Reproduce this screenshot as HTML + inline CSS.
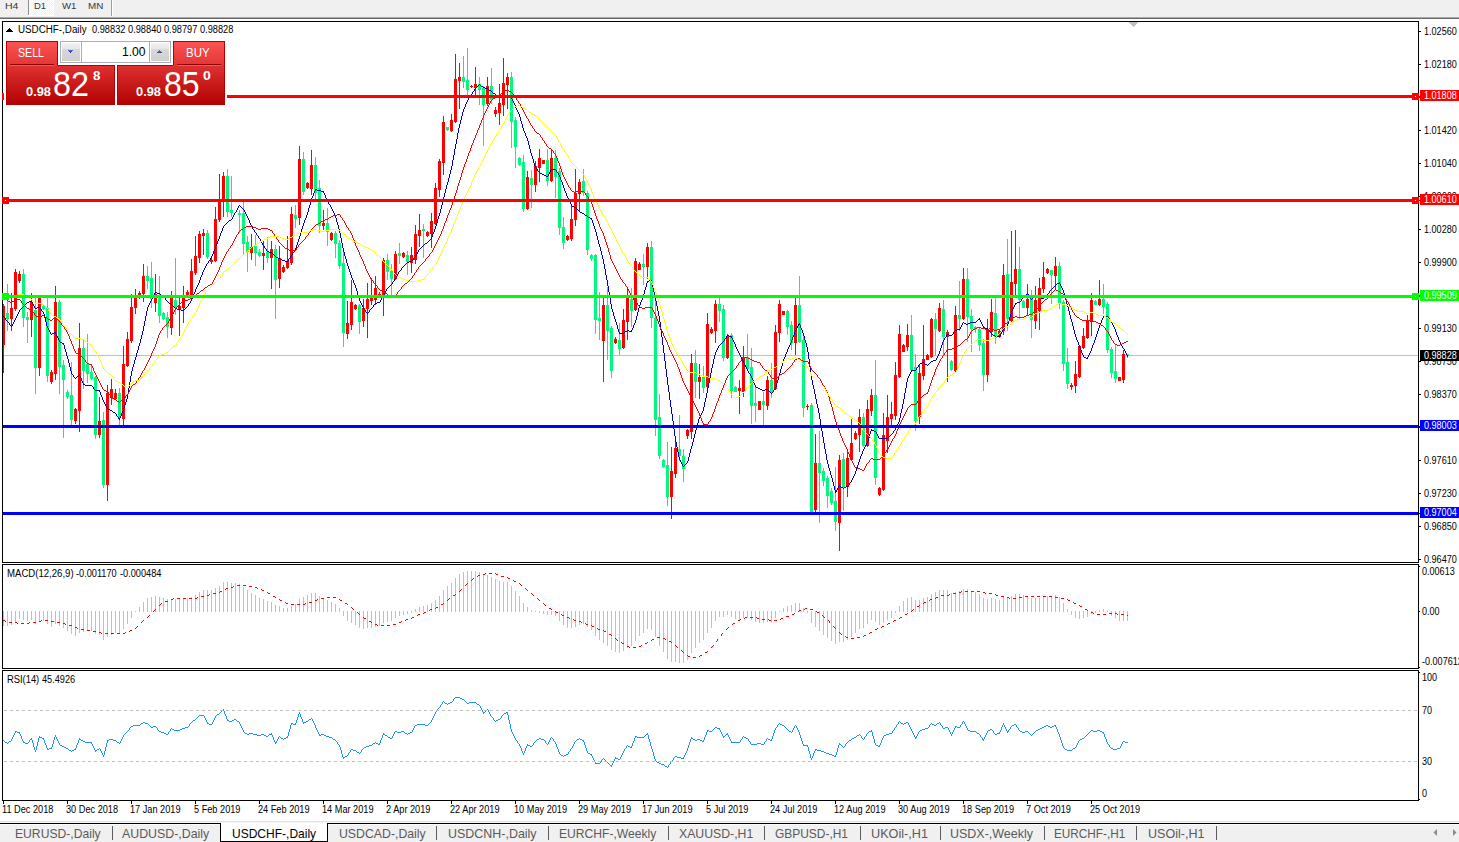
<!DOCTYPE html>
<html><head><meta charset="utf-8"><title>USDCHF-,Daily</title>
<style>
html,body{margin:0;padding:0}
html{overflow:hidden;width:1459px;height:842px}
body{width:1459px;height:842px;position:relative;overflow:hidden;background:#fff;font-family:"Liberation Sans",sans-serif;color:#000}
.abs{position:absolute}
.t{position:absolute;white-space:nowrap;line-height:1}
.ax{position:absolute;white-space:nowrap;line-height:10px;height:10px;font-size:10px;letter-spacing:-0.45px;left:1424px}
.dt{position:absolute;white-space:nowrap;line-height:10px;font-size:10px;letter-spacing:-0.3px;top:805px}
.lb{position:absolute;left:1420px;width:39px;height:11px;color:#fff}
.lb span{position:absolute;left:4.2px;top:1px;font-size:10px;line-height:10px;white-space:nowrap;transform:scaleX(0.905);transform-origin:0 0}
.tab{position:absolute;top:826px;font-size:14px;line-height:15px;color:#5a5a5a;white-space:nowrap;letter-spacing:-0.2px}
.sep{position:absolute;top:826px;width:1px;height:14px;background:#5c5c5c}
.tb{position:absolute;top:0;font-size:10.5px;line-height:11px;color:#404040;white-space:nowrap;letter-spacing:-0.2px}
</style></head><body>

<div class="abs" style="left:0;top:0;width:1459px;height:17px;background:#f0f0f0"></div>
<div class="abs" style="left:0;top:17px;width:1459px;height:1px;background:#a8a8a8"></div>
<div class="abs" style="left:0;top:18px;width:1459px;height:1px;background:#6a6a6a"></div>
<div class="abs" style="left:29px;top:0;width:24px;height:15px;background:repeating-conic-gradient(#ffffff 0 25%,#f0f0f0 0 50%) 0 0/2px 2px"></div>
<div class="abs" style="left:53px;top:0;width:1px;height:16px;background:#fff"></div>
<div class="abs" style="left:28px;top:15px;width:26px;height:1px;background:#fff"></div>
<div class="abs" style="left:28px;top:0;width:1px;height:15px;background:#8e8e8e"></div>
<div class="abs" style="left:111px;top:0;width:1px;height:16px;background:#a0a0a0"></div>
<div class="abs" style="left:112px;top:0;width:1px;height:16px;background:#fff"></div>
<div class="t" style="left:4.70px;top:1.00px;font-size:9.5px;line-height:9.5px;color:#383838;transform:scaleX(1.1034);transform-origin:0 0;">H4</div>
<div class="t" style="left:34.00px;top:1.00px;font-size:9.5px;line-height:9.5px;color:#383838;transform:scaleX(0.9963);transform-origin:0 0;">D1</div>
<div class="t" style="left:61.60px;top:1.00px;font-size:9.5px;line-height:9.5px;color:#383838;transform:scaleX(1.0105);transform-origin:0 0;">W1</div>
<div class="t" style="left:87.90px;top:1.00px;font-size:9.5px;line-height:9.5px;color:#383838;transform:scaleX(1.0356);transform-origin:0 0;">MN</div>
<svg class="abs" style="left:0;top:0" width="1459" height="842" viewBox="0 0 1459 842" shape-rendering="crispEdges">
<path d="M1129 22h9l-4.5 5z" fill="#c0c0c0" shape-rendering="auto"/>
<rect x="1129" y="22" width="9" height="1" fill="#c0c0c0"/>
<rect x="1130" y="23" width="7" height="1" fill="#c0c0c0"/>
<rect x="1131" y="24" width="5" height="1" fill="#c0c0c0"/>
<rect x="1132" y="25" width="3" height="1" fill="#c0c0c0"/>
<rect x="1133" y="26" width="1" height="1" fill="#c0c0c0"/>
<rect x="1419" y="31" width="2" height="1" fill="#000"/>
<rect x="1419" y="64" width="2" height="1" fill="#000"/>
<rect x="1419" y="97" width="2" height="1" fill="#000"/>
<rect x="1419" y="130" width="2" height="1" fill="#000"/>
<rect x="1419" y="163" width="2" height="1" fill="#000"/>
<rect x="1419" y="196" width="2" height="1" fill="#000"/>
<rect x="1419" y="229" width="2" height="1" fill="#000"/>
<rect x="1419" y="262" width="2" height="1" fill="#000"/>
<rect x="1419" y="295" width="2" height="1" fill="#000"/>
<rect x="1419" y="328" width="2" height="1" fill="#000"/>
<rect x="1419" y="361" width="2" height="1" fill="#000"/>
<rect x="1419" y="394" width="2" height="1" fill="#000"/>
<rect x="1419" y="427" width="2" height="1" fill="#000"/>
<rect x="1419" y="460" width="2" height="1" fill="#000"/>
<rect x="1419" y="493" width="2" height="1" fill="#000"/>
<rect x="1419" y="526" width="2" height="1" fill="#000"/>
<rect x="1419" y="559" width="2" height="1" fill="#000"/>
<rect x="1419" y="566" width="1" height="1" fill="#000"/>
<rect x="1419" y="611" width="1" height="1" fill="#000"/>
<rect x="1419" y="667" width="1" height="1" fill="#000"/>
<rect x="1419" y="672" width="1" height="1" fill="#000"/>
<rect x="1419" y="799" width="1" height="1" fill="#000"/>
<rect x="3" y="801" width="1" height="3" fill="#000"/>
<rect x="67" y="801" width="1" height="3" fill="#000"/>
<rect x="131" y="801" width="1" height="3" fill="#000"/>
<rect x="195" y="801" width="1" height="3" fill="#000"/>
<rect x="259" y="801" width="1" height="3" fill="#000"/>
<rect x="323" y="801" width="1" height="3" fill="#000"/>
<rect x="387" y="801" width="1" height="3" fill="#000"/>
<rect x="451" y="801" width="1" height="3" fill="#000"/>
<rect x="515" y="801" width="1" height="3" fill="#000"/>
<rect x="579" y="801" width="1" height="3" fill="#000"/>
<rect x="643" y="801" width="1" height="3" fill="#000"/>
<rect x="707" y="801" width="1" height="3" fill="#000"/>
<rect x="771" y="801" width="1" height="3" fill="#000"/>
<rect x="835" y="801" width="1" height="3" fill="#000"/>
<rect x="899" y="801" width="1" height="3" fill="#000"/>
<rect x="963" y="801" width="1" height="3" fill="#000"/>
<rect x="1027" y="801" width="1" height="3" fill="#000"/>
<rect x="1091" y="801" width="1" height="3" fill="#000"/>
<rect x="3" y="355" width="1415" height="1" fill="#c0c0c0"/>
<rect x="3" y="304" width="1" height="69" fill="#ff0000"/>
<rect x="2" y="306" width="3" height="39" fill="#ff0000"/>
<rect x="7" y="284" width="1" height="47" fill="#00f87c"/>
<rect x="6" y="313" width="3" height="6" fill="#00f87c"/>
<rect x="11" y="293" width="1" height="38" fill="#ff0000"/>
<rect x="10" y="308" width="3" height="11" fill="#ff0000"/>
<rect x="15" y="269" width="1" height="42" fill="#ff0000"/>
<rect x="14" y="272" width="3" height="37" fill="#ff0000"/>
<rect x="19" y="271" width="1" height="12" fill="#ff0000"/>
<rect x="18" y="274" width="3" height="7" fill="#ff0000"/>
<rect x="23" y="269" width="1" height="58" fill="#00f87c"/>
<rect x="22" y="274" width="3" height="44" fill="#00f87c"/>
<rect x="27" y="312" width="1" height="31" fill="#00f87c"/>
<rect x="26" y="317" width="3" height="3" fill="#00f87c"/>
<rect x="31" y="293" width="1" height="44" fill="#ff0000"/>
<rect x="30" y="302" width="3" height="18" fill="#ff0000"/>
<rect x="35" y="297" width="1" height="97" fill="#00f87c"/>
<rect x="34" y="310" width="3" height="58" fill="#00f87c"/>
<rect x="39" y="295" width="1" height="81" fill="#ff0000"/>
<rect x="38" y="298" width="3" height="70" fill="#ff0000"/>
<rect x="43" y="305" width="1" height="5" fill="#00f87c"/>
<rect x="42" y="306" width="3" height="3" fill="#00f87c"/>
<rect x="47" y="298" width="1" height="84" fill="#00f87c"/>
<rect x="46" y="308" width="3" height="68" fill="#00f87c"/>
<rect x="51" y="370" width="1" height="14" fill="#ff0000"/>
<rect x="50" y="372" width="3" height="10" fill="#ff0000"/>
<rect x="55" y="286" width="1" height="94" fill="#ff0000"/>
<rect x="54" y="302" width="3" height="72" fill="#ff0000"/>
<rect x="59" y="300" width="1" height="94" fill="#00f87c"/>
<rect x="58" y="302" width="3" height="65" fill="#00f87c"/>
<rect x="63" y="360" width="1" height="78" fill="#00f87c"/>
<rect x="62" y="365" width="3" height="15" fill="#00f87c"/>
<rect x="67" y="390" width="1" height="9" fill="#00f87c"/>
<rect x="66" y="392" width="3" height="5" fill="#00f87c"/>
<rect x="71" y="362" width="1" height="63" fill="#00f87c"/>
<rect x="70" y="395" width="3" height="25" fill="#00f87c"/>
<rect x="75" y="408" width="1" height="16" fill="#ff0000"/>
<rect x="74" y="409" width="3" height="12" fill="#ff0000"/>
<rect x="79" y="323" width="1" height="109" fill="#ff0000"/>
<rect x="78" y="348" width="3" height="63" fill="#ff0000"/>
<rect x="83" y="340" width="1" height="49" fill="#00f87c"/>
<rect x="82" y="348" width="3" height="23" fill="#00f87c"/>
<rect x="87" y="334" width="1" height="49" fill="#00f87c"/>
<rect x="86" y="364" width="3" height="10" fill="#00f87c"/>
<rect x="91" y="366" width="1" height="14" fill="#00f87c"/>
<rect x="90" y="372" width="3" height="7" fill="#00f87c"/>
<rect x="95" y="376" width="1" height="63" fill="#00f87c"/>
<rect x="94" y="377" width="3" height="58" fill="#00f87c"/>
<rect x="99" y="397" width="1" height="41" fill="#ff0000"/>
<rect x="98" y="421" width="3" height="14" fill="#ff0000"/>
<rect x="103" y="412" width="1" height="76" fill="#00f87c"/>
<rect x="102" y="420" width="3" height="65" fill="#00f87c"/>
<rect x="107" y="385" width="1" height="116" fill="#ff0000"/>
<rect x="106" y="393" width="3" height="92" fill="#ff0000"/>
<rect x="111" y="379" width="1" height="26" fill="#ff0000"/>
<rect x="110" y="389" width="3" height="9" fill="#ff0000"/>
<rect x="115" y="389" width="1" height="11" fill="#ff0000"/>
<rect x="114" y="393" width="3" height="6" fill="#ff0000"/>
<rect x="119" y="388" width="1" height="38" fill="#00f87c"/>
<rect x="118" y="393" width="3" height="25" fill="#00f87c"/>
<rect x="123" y="346" width="1" height="80" fill="#ff0000"/>
<rect x="122" y="364" width="3" height="55" fill="#ff0000"/>
<rect x="127" y="332" width="1" height="35" fill="#ff0000"/>
<rect x="126" y="339" width="3" height="27" fill="#ff0000"/>
<rect x="131" y="294" width="1" height="49" fill="#ff0000"/>
<rect x="130" y="307" width="3" height="34" fill="#ff0000"/>
<rect x="135" y="289" width="1" height="25" fill="#ff0000"/>
<rect x="134" y="298" width="3" height="10" fill="#ff0000"/>
<rect x="139" y="291" width="1" height="8" fill="#ff0000"/>
<rect x="138" y="293" width="3" height="3" fill="#ff0000"/>
<rect x="143" y="264" width="1" height="38" fill="#ff0000"/>
<rect x="142" y="276" width="3" height="18" fill="#ff0000"/>
<rect x="147" y="266" width="1" height="23" fill="#00f87c"/>
<rect x="146" y="276" width="3" height="5" fill="#00f87c"/>
<rect x="151" y="262" width="1" height="46" fill="#00f87c"/>
<rect x="150" y="278" width="3" height="21" fill="#00f87c"/>
<rect x="155" y="274" width="1" height="38" fill="#ff0000"/>
<rect x="154" y="294" width="3" height="9" fill="#ff0000"/>
<rect x="159" y="276" width="1" height="47" fill="#00f87c"/>
<rect x="158" y="295" width="3" height="21" fill="#00f87c"/>
<rect x="163" y="312" width="1" height="8" fill="#00f87c"/>
<rect x="162" y="313" width="3" height="6" fill="#00f87c"/>
<rect x="167" y="312" width="1" height="26" fill="#00f87c"/>
<rect x="166" y="317" width="3" height="10" fill="#00f87c"/>
<rect x="171" y="291" width="1" height="44" fill="#ff0000"/>
<rect x="170" y="298" width="3" height="30" fill="#ff0000"/>
<rect x="175" y="258" width="1" height="57" fill="#00f87c"/>
<rect x="174" y="300" width="3" height="8" fill="#00f87c"/>
<rect x="179" y="298" width="1" height="38" fill="#ff0000"/>
<rect x="178" y="306" width="3" height="3" fill="#ff0000"/>
<rect x="183" y="286" width="1" height="37" fill="#ff0000"/>
<rect x="182" y="298" width="3" height="10" fill="#ff0000"/>
<rect x="187" y="290" width="1" height="7" fill="#ff0000"/>
<rect x="186" y="292" width="3" height="4" fill="#ff0000"/>
<rect x="191" y="259" width="1" height="38" fill="#ff0000"/>
<rect x="190" y="271" width="3" height="24" fill="#ff0000"/>
<rect x="195" y="236" width="1" height="39" fill="#ff0000"/>
<rect x="194" y="256" width="3" height="17" fill="#ff0000"/>
<rect x="199" y="231" width="1" height="32" fill="#ff0000"/>
<rect x="198" y="234" width="3" height="24" fill="#ff0000"/>
<rect x="203" y="229" width="1" height="26" fill="#ff0000"/>
<rect x="202" y="233" width="3" height="3" fill="#ff0000"/>
<rect x="207" y="230" width="1" height="29" fill="#00f87c"/>
<rect x="206" y="233" width="3" height="24" fill="#00f87c"/>
<rect x="211" y="258" width="1" height="6" fill="#ff0000"/>
<rect x="210" y="260" width="3" height="2" fill="#ff0000"/>
<rect x="215" y="207" width="1" height="55" fill="#ff0000"/>
<rect x="214" y="219" width="3" height="42" fill="#ff0000"/>
<rect x="219" y="174" width="1" height="48" fill="#ff0000"/>
<rect x="218" y="201" width="3" height="19" fill="#ff0000"/>
<rect x="223" y="172" width="1" height="45" fill="#ff0000"/>
<rect x="222" y="176" width="3" height="26" fill="#ff0000"/>
<rect x="227" y="169" width="1" height="48" fill="#00f87c"/>
<rect x="226" y="176" width="3" height="36" fill="#00f87c"/>
<rect x="231" y="176" width="1" height="41" fill="#00f87c"/>
<rect x="230" y="210" width="3" height="3" fill="#00f87c"/>
<rect x="239" y="210" width="1" height="23" fill="#00f87c"/>
<rect x="238" y="213" width="3" height="2" fill="#00f87c"/>
<rect x="243" y="202" width="1" height="52" fill="#00f87c"/>
<rect x="242" y="213" width="3" height="31" fill="#00f87c"/>
<rect x="247" y="236" width="1" height="36" fill="#00f87c"/>
<rect x="246" y="242" width="3" height="10" fill="#00f87c"/>
<rect x="251" y="234" width="1" height="26" fill="#ff0000"/>
<rect x="250" y="247" width="3" height="6" fill="#ff0000"/>
<rect x="255" y="235" width="1" height="31" fill="#00f87c"/>
<rect x="254" y="246" width="3" height="7" fill="#00f87c"/>
<rect x="259" y="249" width="1" height="8" fill="#00f87c"/>
<rect x="258" y="252" width="3" height="4" fill="#00f87c"/>
<rect x="263" y="240" width="1" height="30" fill="#ff0000"/>
<rect x="262" y="253" width="3" height="3" fill="#ff0000"/>
<rect x="267" y="237" width="1" height="26" fill="#00f87c"/>
<rect x="266" y="252" width="3" height="6" fill="#00f87c"/>
<rect x="271" y="241" width="1" height="48" fill="#ff0000"/>
<rect x="270" y="249" width="3" height="9" fill="#ff0000"/>
<rect x="275" y="245" width="1" height="74" fill="#00f87c"/>
<rect x="274" y="249" width="3" height="31" fill="#00f87c"/>
<rect x="279" y="246" width="1" height="42" fill="#ff0000"/>
<rect x="278" y="258" width="3" height="21" fill="#ff0000"/>
<rect x="283" y="265" width="1" height="8" fill="#ff0000"/>
<rect x="282" y="267" width="3" height="5" fill="#ff0000"/>
<rect x="287" y="236" width="1" height="33" fill="#ff0000"/>
<rect x="286" y="261" width="3" height="7" fill="#ff0000"/>
<rect x="291" y="207" width="1" height="58" fill="#ff0000"/>
<rect x="290" y="214" width="3" height="49" fill="#ff0000"/>
<rect x="295" y="205" width="1" height="23" fill="#00f87c"/>
<rect x="294" y="215" width="3" height="4" fill="#00f87c"/>
<rect x="299" y="146" width="1" height="79" fill="#ff0000"/>
<rect x="298" y="159" width="3" height="59" fill="#ff0000"/>
<rect x="303" y="152" width="1" height="43" fill="#00f87c"/>
<rect x="302" y="159" width="3" height="33" fill="#00f87c"/>
<rect x="307" y="182" width="1" height="7" fill="#ff0000"/>
<rect x="306" y="183" width="3" height="5" fill="#ff0000"/>
<rect x="311" y="150" width="1" height="45" fill="#ff0000"/>
<rect x="310" y="165" width="3" height="24" fill="#ff0000"/>
<rect x="315" y="157" width="1" height="42" fill="#00f87c"/>
<rect x="314" y="165" width="3" height="28" fill="#00f87c"/>
<rect x="319" y="180" width="1" height="53" fill="#00f87c"/>
<rect x="318" y="188" width="3" height="38" fill="#00f87c"/>
<rect x="323" y="210" width="1" height="20" fill="#ff0000"/>
<rect x="322" y="223" width="3" height="3" fill="#ff0000"/>
<rect x="327" y="208" width="1" height="38" fill="#00f87c"/>
<rect x="326" y="223" width="3" height="9" fill="#00f87c"/>
<rect x="331" y="232" width="1" height="9" fill="#ff0000"/>
<rect x="330" y="233" width="3" height="7" fill="#ff0000"/>
<rect x="335" y="231" width="1" height="27" fill="#00f87c"/>
<rect x="334" y="233" width="3" height="11" fill="#00f87c"/>
<rect x="339" y="240" width="1" height="29" fill="#00f87c"/>
<rect x="338" y="243" width="3" height="23" fill="#00f87c"/>
<rect x="343" y="250" width="1" height="97" fill="#00f87c"/>
<rect x="342" y="263" width="3" height="70" fill="#00f87c"/>
<rect x="347" y="301" width="1" height="38" fill="#ff0000"/>
<rect x="346" y="323" width="3" height="11" fill="#ff0000"/>
<rect x="351" y="280" width="1" height="50" fill="#ff0000"/>
<rect x="350" y="302" width="3" height="23" fill="#ff0000"/>
<rect x="355" y="304" width="1" height="6" fill="#ff0000"/>
<rect x="354" y="305" width="3" height="4" fill="#ff0000"/>
<rect x="359" y="304" width="1" height="30" fill="#00f87c"/>
<rect x="358" y="305" width="3" height="17" fill="#00f87c"/>
<rect x="363" y="299" width="1" height="28" fill="#ff0000"/>
<rect x="362" y="308" width="3" height="13" fill="#ff0000"/>
<rect x="367" y="283" width="1" height="55" fill="#ff0000"/>
<rect x="366" y="299" width="3" height="10" fill="#ff0000"/>
<rect x="371" y="278" width="1" height="27" fill="#ff0000"/>
<rect x="370" y="298" width="3" height="3" fill="#ff0000"/>
<rect x="375" y="276" width="1" height="29" fill="#ff0000"/>
<rect x="374" y="288" width="3" height="12" fill="#ff0000"/>
<rect x="379" y="292" width="1" height="5" fill="#ff0000"/>
<rect x="378" y="294" width="3" height="2" fill="#ff0000"/>
<rect x="383" y="258" width="1" height="58" fill="#ff0000"/>
<rect x="382" y="260" width="3" height="36" fill="#ff0000"/>
<rect x="387" y="254" width="1" height="26" fill="#00f87c"/>
<rect x="386" y="260" width="3" height="12" fill="#00f87c"/>
<rect x="391" y="264" width="1" height="32" fill="#00f87c"/>
<rect x="390" y="271" width="3" height="8" fill="#00f87c"/>
<rect x="395" y="251" width="1" height="29" fill="#ff0000"/>
<rect x="394" y="254" width="3" height="25" fill="#ff0000"/>
<rect x="399" y="243" width="1" height="21" fill="#00f87c"/>
<rect x="398" y="253" width="3" height="3" fill="#00f87c"/>
<rect x="403" y="252" width="1" height="6" fill="#ff0000"/>
<rect x="402" y="253" width="3" height="4" fill="#ff0000"/>
<rect x="407" y="251" width="1" height="24" fill="#00f87c"/>
<rect x="406" y="255" width="3" height="7" fill="#00f87c"/>
<rect x="411" y="247" width="1" height="26" fill="#ff0000"/>
<rect x="410" y="255" width="3" height="8" fill="#ff0000"/>
<rect x="415" y="225" width="1" height="39" fill="#ff0000"/>
<rect x="414" y="234" width="3" height="26" fill="#ff0000"/>
<rect x="419" y="214" width="1" height="33" fill="#ff0000"/>
<rect x="418" y="230" width="3" height="6" fill="#ff0000"/>
<rect x="423" y="224" width="1" height="34" fill="#00f87c"/>
<rect x="422" y="229" width="3" height="2" fill="#00f87c"/>
<rect x="427" y="231" width="1" height="6" fill="#ff0000"/>
<rect x="426" y="232" width="3" height="4" fill="#ff0000"/>
<rect x="431" y="213" width="1" height="35" fill="#ff0000"/>
<rect x="430" y="221" width="3" height="13" fill="#ff0000"/>
<rect x="435" y="183" width="1" height="42" fill="#ff0000"/>
<rect x="434" y="188" width="3" height="36" fill="#ff0000"/>
<rect x="439" y="159" width="1" height="38" fill="#ff0000"/>
<rect x="438" y="161" width="3" height="29" fill="#ff0000"/>
<rect x="443" y="116" width="1" height="59" fill="#ff0000"/>
<rect x="442" y="122" width="3" height="41" fill="#ff0000"/>
<rect x="447" y="127" width="1" height="4" fill="#00f87c"/>
<rect x="446" y="127" width="3" height="3" fill="#00f87c"/>
<rect x="451" y="114" width="1" height="18" fill="#ff0000"/>
<rect x="450" y="120" width="3" height="11" fill="#ff0000"/>
<rect x="455" y="54" width="1" height="69" fill="#ff0000"/>
<rect x="454" y="79" width="3" height="43" fill="#ff0000"/>
<rect x="459" y="63" width="1" height="46" fill="#ff0000"/>
<rect x="458" y="77" width="3" height="4" fill="#ff0000"/>
<rect x="463" y="56" width="1" height="32" fill="#00f87c"/>
<rect x="462" y="77" width="3" height="5" fill="#00f87c"/>
<rect x="467" y="48" width="1" height="50" fill="#00f87c"/>
<rect x="466" y="80" width="3" height="10" fill="#00f87c"/>
<rect x="471" y="85" width="1" height="3" fill="#ff0000"/>
<rect x="470" y="86" width="3" height="1" fill="#ff0000"/>
<rect x="475" y="67" width="1" height="28" fill="#ff0000"/>
<rect x="474" y="84" width="3" height="4" fill="#ff0000"/>
<rect x="479" y="77" width="1" height="28" fill="#00f87c"/>
<rect x="478" y="84" width="3" height="6" fill="#00f87c"/>
<rect x="483" y="86" width="1" height="60" fill="#00f87c"/>
<rect x="482" y="88" width="3" height="17" fill="#00f87c"/>
<rect x="487" y="77" width="1" height="29" fill="#ff0000"/>
<rect x="486" y="86" width="3" height="18" fill="#ff0000"/>
<rect x="491" y="68" width="1" height="36" fill="#00f87c"/>
<rect x="490" y="86" width="3" height="14" fill="#00f87c"/>
<rect x="495" y="107" width="1" height="10" fill="#ff0000"/>
<rect x="494" y="110" width="3" height="4" fill="#ff0000"/>
<rect x="499" y="84" width="1" height="41" fill="#ff0000"/>
<rect x="498" y="103" width="3" height="10" fill="#ff0000"/>
<rect x="503" y="58" width="1" height="58" fill="#ff0000"/>
<rect x="502" y="83" width="3" height="22" fill="#ff0000"/>
<rect x="507" y="73" width="1" height="36" fill="#ff0000"/>
<rect x="506" y="77" width="3" height="8" fill="#ff0000"/>
<rect x="511" y="72" width="1" height="76" fill="#00f87c"/>
<rect x="510" y="77" width="3" height="45" fill="#00f87c"/>
<rect x="515" y="117" width="1" height="51" fill="#00f87c"/>
<rect x="514" y="120" width="3" height="27" fill="#00f87c"/>
<rect x="519" y="157" width="1" height="9" fill="#00f87c"/>
<rect x="518" y="158" width="3" height="7" fill="#00f87c"/>
<rect x="523" y="155" width="1" height="57" fill="#00f87c"/>
<rect x="522" y="162" width="3" height="47" fill="#00f87c"/>
<rect x="527" y="171" width="1" height="39" fill="#ff0000"/>
<rect x="526" y="177" width="3" height="32" fill="#ff0000"/>
<rect x="531" y="170" width="1" height="38" fill="#00f87c"/>
<rect x="530" y="178" width="3" height="7" fill="#00f87c"/>
<rect x="535" y="161" width="1" height="31" fill="#ff0000"/>
<rect x="534" y="166" width="3" height="19" fill="#ff0000"/>
<rect x="539" y="149" width="1" height="33" fill="#ff0000"/>
<rect x="538" y="158" width="3" height="10" fill="#ff0000"/>
<rect x="543" y="160" width="1" height="4" fill="#ff0000"/>
<rect x="542" y="160" width="3" height="4" fill="#ff0000"/>
<rect x="547" y="149" width="1" height="37" fill="#00f87c"/>
<rect x="546" y="160" width="3" height="21" fill="#00f87c"/>
<rect x="551" y="150" width="1" height="32" fill="#ff0000"/>
<rect x="550" y="158" width="3" height="23" fill="#ff0000"/>
<rect x="555" y="150" width="1" height="48" fill="#00f87c"/>
<rect x="554" y="158" width="3" height="19" fill="#00f87c"/>
<rect x="559" y="168" width="1" height="67" fill="#00f87c"/>
<rect x="558" y="171" width="3" height="57" fill="#00f87c"/>
<rect x="563" y="217" width="1" height="32" fill="#00f87c"/>
<rect x="562" y="227" width="3" height="16" fill="#00f87c"/>
<rect x="567" y="235" width="1" height="6" fill="#ff0000"/>
<rect x="566" y="236" width="3" height="4" fill="#ff0000"/>
<rect x="571" y="205" width="1" height="36" fill="#ff0000"/>
<rect x="570" y="219" width="3" height="20" fill="#ff0000"/>
<rect x="575" y="169" width="1" height="57" fill="#ff0000"/>
<rect x="574" y="193" width="3" height="27" fill="#ff0000"/>
<rect x="579" y="179" width="1" height="33" fill="#ff0000"/>
<rect x="578" y="182" width="3" height="12" fill="#ff0000"/>
<rect x="583" y="169" width="1" height="27" fill="#00f87c"/>
<rect x="582" y="181" width="3" height="12" fill="#00f87c"/>
<rect x="587" y="191" width="1" height="64" fill="#00f87c"/>
<rect x="586" y="193" width="3" height="57" fill="#00f87c"/>
<rect x="591" y="254" width="1" height="7" fill="#00f87c"/>
<rect x="590" y="255" width="3" height="4" fill="#00f87c"/>
<rect x="595" y="254" width="1" height="80" fill="#00f87c"/>
<rect x="594" y="255" width="3" height="65" fill="#00f87c"/>
<rect x="599" y="292" width="1" height="48" fill="#00f87c"/>
<rect x="598" y="318" width="3" height="3" fill="#00f87c"/>
<rect x="603" y="298" width="1" height="84" fill="#ff0000"/>
<rect x="602" y="305" width="3" height="36" fill="#ff0000"/>
<rect x="607" y="287" width="1" height="73" fill="#00f87c"/>
<rect x="606" y="305" width="3" height="26" fill="#00f87c"/>
<rect x="611" y="326" width="1" height="52" fill="#00f87c"/>
<rect x="610" y="328" width="3" height="43" fill="#00f87c"/>
<rect x="615" y="337" width="1" height="7" fill="#ff0000"/>
<rect x="614" y="339" width="3" height="4" fill="#ff0000"/>
<rect x="619" y="323" width="1" height="32" fill="#00f87c"/>
<rect x="618" y="340" width="3" height="9" fill="#00f87c"/>
<rect x="623" y="309" width="1" height="40" fill="#ff0000"/>
<rect x="622" y="320" width="3" height="28" fill="#ff0000"/>
<rect x="627" y="288" width="1" height="52" fill="#ff0000"/>
<rect x="626" y="298" width="3" height="24" fill="#ff0000"/>
<rect x="631" y="288" width="1" height="39" fill="#00f87c"/>
<rect x="630" y="299" width="3" height="12" fill="#00f87c"/>
<rect x="635" y="258" width="1" height="53" fill="#ff0000"/>
<rect x="634" y="261" width="3" height="49" fill="#ff0000"/>
<rect x="639" y="262" width="1" height="8" fill="#ff0000"/>
<rect x="638" y="264" width="3" height="6" fill="#ff0000"/>
<rect x="643" y="254" width="1" height="31" fill="#00f87c"/>
<rect x="642" y="264" width="3" height="3" fill="#00f87c"/>
<rect x="647" y="243" width="1" height="36" fill="#ff0000"/>
<rect x="646" y="247" width="3" height="20" fill="#ff0000"/>
<rect x="651" y="241" width="1" height="87" fill="#00f87c"/>
<rect x="650" y="247" width="3" height="71" fill="#00f87c"/>
<rect x="655" y="298" width="1" height="138" fill="#00f87c"/>
<rect x="654" y="318" width="3" height="102" fill="#00f87c"/>
<rect x="659" y="394" width="1" height="65" fill="#00f87c"/>
<rect x="658" y="417" width="3" height="39" fill="#00f87c"/>
<rect x="663" y="459" width="1" height="9" fill="#00f87c"/>
<rect x="662" y="460" width="3" height="7" fill="#00f87c"/>
<rect x="667" y="442" width="1" height="64" fill="#00f87c"/>
<rect x="666" y="465" width="3" height="32" fill="#00f87c"/>
<rect x="671" y="447" width="1" height="72" fill="#ff0000"/>
<rect x="670" y="471" width="3" height="26" fill="#ff0000"/>
<rect x="675" y="441" width="1" height="37" fill="#ff0000"/>
<rect x="674" y="448" width="3" height="26" fill="#ff0000"/>
<rect x="679" y="415" width="1" height="46" fill="#00f87c"/>
<rect x="678" y="449" width="3" height="7" fill="#00f87c"/>
<rect x="683" y="449" width="1" height="33" fill="#00f87c"/>
<rect x="682" y="456" width="3" height="13" fill="#00f87c"/>
<rect x="687" y="429" width="1" height="10" fill="#ff0000"/>
<rect x="686" y="430" width="3" height="6" fill="#ff0000"/>
<rect x="691" y="354" width="1" height="85" fill="#ff0000"/>
<rect x="690" y="363" width="3" height="69" fill="#ff0000"/>
<rect x="695" y="350" width="1" height="48" fill="#00f87c"/>
<rect x="694" y="363" width="3" height="19" fill="#00f87c"/>
<rect x="699" y="364" width="1" height="35" fill="#ff0000"/>
<rect x="698" y="377" width="3" height="5" fill="#ff0000"/>
<rect x="703" y="366" width="1" height="27" fill="#00f87c"/>
<rect x="702" y="377" width="3" height="11" fill="#00f87c"/>
<rect x="707" y="313" width="1" height="76" fill="#ff0000"/>
<rect x="706" y="324" width="3" height="63" fill="#ff0000"/>
<rect x="711" y="327" width="1" height="7" fill="#ff0000"/>
<rect x="710" y="329" width="3" height="4" fill="#ff0000"/>
<rect x="715" y="300" width="1" height="43" fill="#ff0000"/>
<rect x="714" y="304" width="3" height="27" fill="#ff0000"/>
<rect x="719" y="298" width="1" height="24" fill="#00f87c"/>
<rect x="718" y="304" width="3" height="7" fill="#00f87c"/>
<rect x="723" y="305" width="1" height="56" fill="#00f87c"/>
<rect x="722" y="309" width="3" height="49" fill="#00f87c"/>
<rect x="727" y="334" width="1" height="25" fill="#ff0000"/>
<rect x="726" y="336" width="3" height="22" fill="#ff0000"/>
<rect x="731" y="333" width="1" height="65" fill="#00f87c"/>
<rect x="730" y="335" width="3" height="56" fill="#00f87c"/>
<rect x="735" y="386" width="1" height="6" fill="#00f87c"/>
<rect x="734" y="387" width="3" height="5" fill="#00f87c"/>
<rect x="739" y="380" width="1" height="34" fill="#ff0000"/>
<rect x="738" y="388" width="3" height="3" fill="#ff0000"/>
<rect x="743" y="346" width="1" height="51" fill="#ff0000"/>
<rect x="742" y="357" width="3" height="35" fill="#ff0000"/>
<rect x="747" y="334" width="1" height="37" fill="#00f87c"/>
<rect x="746" y="357" width="3" height="12" fill="#00f87c"/>
<rect x="751" y="348" width="1" height="76" fill="#00f87c"/>
<rect x="750" y="367" width="3" height="39" fill="#00f87c"/>
<rect x="755" y="387" width="1" height="35" fill="#00f87c"/>
<rect x="754" y="403" width="3" height="3" fill="#00f87c"/>
<rect x="759" y="401" width="1" height="9" fill="#ff0000"/>
<rect x="758" y="401" width="3" height="9" fill="#ff0000"/>
<rect x="763" y="392" width="1" height="34" fill="#00f87c"/>
<rect x="762" y="401" width="3" height="4" fill="#00f87c"/>
<rect x="767" y="376" width="1" height="34" fill="#ff0000"/>
<rect x="766" y="380" width="3" height="26" fill="#ff0000"/>
<rect x="771" y="363" width="1" height="35" fill="#00f87c"/>
<rect x="770" y="380" width="3" height="12" fill="#00f87c"/>
<rect x="775" y="325" width="1" height="65" fill="#ff0000"/>
<rect x="774" y="332" width="3" height="57" fill="#ff0000"/>
<rect x="779" y="300" width="1" height="42" fill="#ff0000"/>
<rect x="778" y="304" width="3" height="29" fill="#ff0000"/>
<rect x="783" y="311" width="1" height="4" fill="#ff0000"/>
<rect x="782" y="311" width="3" height="4" fill="#ff0000"/>
<rect x="787" y="310" width="1" height="25" fill="#00f87c"/>
<rect x="786" y="311" width="3" height="16" fill="#00f87c"/>
<rect x="791" y="321" width="1" height="29" fill="#00f87c"/>
<rect x="790" y="325" width="3" height="18" fill="#00f87c"/>
<rect x="795" y="298" width="1" height="57" fill="#ff0000"/>
<rect x="794" y="305" width="3" height="38" fill="#ff0000"/>
<rect x="799" y="276" width="1" height="67" fill="#00f87c"/>
<rect x="798" y="305" width="3" height="37" fill="#00f87c"/>
<rect x="803" y="336" width="1" height="81" fill="#00f87c"/>
<rect x="802" y="340" width="3" height="68" fill="#00f87c"/>
<rect x="807" y="404" width="1" height="6" fill="#ff0000"/>
<rect x="806" y="406" width="3" height="1" fill="#ff0000"/>
<rect x="811" y="403" width="1" height="110" fill="#00f87c"/>
<rect x="810" y="405" width="3" height="107" fill="#00f87c"/>
<rect x="815" y="434" width="1" height="78" fill="#ff0000"/>
<rect x="814" y="463" width="3" height="47" fill="#ff0000"/>
<rect x="819" y="431" width="1" height="92" fill="#00f87c"/>
<rect x="818" y="463" width="3" height="10" fill="#00f87c"/>
<rect x="823" y="468" width="1" height="18" fill="#00f87c"/>
<rect x="822" y="471" width="3" height="10" fill="#00f87c"/>
<rect x="827" y="476" width="1" height="32" fill="#00f87c"/>
<rect x="826" y="478" width="3" height="18" fill="#00f87c"/>
<rect x="831" y="488" width="1" height="17" fill="#00f87c"/>
<rect x="830" y="491" width="3" height="12" fill="#00f87c"/>
<rect x="835" y="467" width="1" height="64" fill="#00f87c"/>
<rect x="834" y="501" width="3" height="21" fill="#00f87c"/>
<rect x="839" y="455" width="1" height="96" fill="#ff0000"/>
<rect x="838" y="460" width="3" height="63" fill="#ff0000"/>
<rect x="843" y="453" width="1" height="58" fill="#00f87c"/>
<rect x="842" y="459" width="3" height="28" fill="#00f87c"/>
<rect x="847" y="449" width="1" height="48" fill="#ff0000"/>
<rect x="846" y="458" width="3" height="29" fill="#ff0000"/>
<rect x="851" y="419" width="1" height="42" fill="#ff0000"/>
<rect x="850" y="443" width="3" height="17" fill="#ff0000"/>
<rect x="855" y="431" width="1" height="9" fill="#ff0000"/>
<rect x="854" y="433" width="3" height="6" fill="#ff0000"/>
<rect x="859" y="409" width="1" height="43" fill="#ff0000"/>
<rect x="858" y="417" width="3" height="18" fill="#ff0000"/>
<rect x="863" y="413" width="1" height="34" fill="#00f87c"/>
<rect x="862" y="417" width="3" height="29" fill="#00f87c"/>
<rect x="867" y="400" width="1" height="47" fill="#ff0000"/>
<rect x="866" y="409" width="3" height="37" fill="#ff0000"/>
<rect x="871" y="389" width="1" height="27" fill="#ff0000"/>
<rect x="870" y="395" width="3" height="16" fill="#ff0000"/>
<rect x="875" y="360" width="1" height="125" fill="#00f87c"/>
<rect x="874" y="395" width="3" height="83" fill="#00f87c"/>
<rect x="879" y="487" width="1" height="9" fill="#ff0000"/>
<rect x="878" y="488" width="3" height="7" fill="#ff0000"/>
<rect x="883" y="413" width="1" height="78" fill="#ff0000"/>
<rect x="882" y="435" width="3" height="55" fill="#ff0000"/>
<rect x="887" y="395" width="1" height="58" fill="#ff0000"/>
<rect x="886" y="417" width="3" height="24" fill="#ff0000"/>
<rect x="891" y="402" width="1" height="24" fill="#ff0000"/>
<rect x="890" y="414" width="3" height="5" fill="#ff0000"/>
<rect x="895" y="362" width="1" height="58" fill="#ff0000"/>
<rect x="894" y="375" width="3" height="41" fill="#ff0000"/>
<rect x="899" y="325" width="1" height="53" fill="#ff0000"/>
<rect x="898" y="334" width="3" height="43" fill="#ff0000"/>
<rect x="903" y="344" width="1" height="8" fill="#ff0000"/>
<rect x="902" y="345" width="3" height="7" fill="#ff0000"/>
<rect x="907" y="324" width="1" height="27" fill="#ff0000"/>
<rect x="906" y="335" width="3" height="12" fill="#ff0000"/>
<rect x="911" y="315" width="1" height="56" fill="#00f87c"/>
<rect x="910" y="335" width="3" height="35" fill="#00f87c"/>
<rect x="915" y="354" width="1" height="77" fill="#00f87c"/>
<rect x="914" y="367" width="3" height="54" fill="#00f87c"/>
<rect x="919" y="365" width="1" height="59" fill="#ff0000"/>
<rect x="918" y="373" width="3" height="44" fill="#ff0000"/>
<rect x="923" y="325" width="1" height="55" fill="#ff0000"/>
<rect x="922" y="359" width="3" height="17" fill="#ff0000"/>
<rect x="927" y="354" width="1" height="6" fill="#ff0000"/>
<rect x="926" y="355" width="3" height="5" fill="#ff0000"/>
<rect x="931" y="318" width="1" height="40" fill="#ff0000"/>
<rect x="930" y="319" width="3" height="38" fill="#ff0000"/>
<rect x="935" y="313" width="1" height="43" fill="#00f87c"/>
<rect x="934" y="319" width="3" height="10" fill="#00f87c"/>
<rect x="939" y="303" width="1" height="29" fill="#ff0000"/>
<rect x="938" y="308" width="3" height="23" fill="#ff0000"/>
<rect x="943" y="300" width="1" height="55" fill="#00f87c"/>
<rect x="942" y="309" width="3" height="28" fill="#00f87c"/>
<rect x="947" y="330" width="1" height="52" fill="#ff0000"/>
<rect x="946" y="332" width="3" height="5" fill="#ff0000"/>
<rect x="951" y="360" width="1" height="11" fill="#00f87c"/>
<rect x="950" y="361" width="3" height="9" fill="#00f87c"/>
<rect x="955" y="306" width="1" height="66" fill="#ff0000"/>
<rect x="954" y="315" width="3" height="56" fill="#ff0000"/>
<rect x="959" y="281" width="1" height="50" fill="#00f87c"/>
<rect x="958" y="315" width="3" height="4" fill="#00f87c"/>
<rect x="963" y="268" width="1" height="52" fill="#ff0000"/>
<rect x="962" y="279" width="3" height="40" fill="#ff0000"/>
<rect x="967" y="268" width="1" height="74" fill="#00f87c"/>
<rect x="966" y="279" width="3" height="38" fill="#00f87c"/>
<rect x="971" y="309" width="1" height="43" fill="#00f87c"/>
<rect x="970" y="316" width="3" height="13" fill="#00f87c"/>
<rect x="975" y="326" width="1" height="7" fill="#00f87c"/>
<rect x="974" y="327" width="3" height="2" fill="#00f87c"/>
<rect x="979" y="327" width="1" height="24" fill="#00f87c"/>
<rect x="978" y="329" width="3" height="16" fill="#00f87c"/>
<rect x="983" y="339" width="1" height="52" fill="#00f87c"/>
<rect x="982" y="343" width="3" height="32" fill="#00f87c"/>
<rect x="987" y="319" width="1" height="63" fill="#ff0000"/>
<rect x="986" y="329" width="3" height="46" fill="#ff0000"/>
<rect x="991" y="299" width="1" height="38" fill="#ff0000"/>
<rect x="990" y="312" width="3" height="20" fill="#ff0000"/>
<rect x="995" y="298" width="1" height="46" fill="#00f87c"/>
<rect x="994" y="313" width="3" height="25" fill="#00f87c"/>
<rect x="999" y="330" width="1" height="8" fill="#ff0000"/>
<rect x="998" y="331" width="3" height="6" fill="#ff0000"/>
<rect x="1003" y="264" width="1" height="71" fill="#ff0000"/>
<rect x="1002" y="275" width="3" height="56" fill="#ff0000"/>
<rect x="1007" y="239" width="1" height="92" fill="#00f87c"/>
<rect x="1006" y="274" width="3" height="45" fill="#00f87c"/>
<rect x="1011" y="231" width="1" height="91" fill="#ff0000"/>
<rect x="1010" y="282" width="3" height="39" fill="#ff0000"/>
<rect x="1015" y="230" width="1" height="66" fill="#ff0000"/>
<rect x="1014" y="269" width="3" height="15" fill="#ff0000"/>
<rect x="1019" y="247" width="1" height="73" fill="#00f87c"/>
<rect x="1018" y="269" width="3" height="31" fill="#00f87c"/>
<rect x="1023" y="300" width="1" height="8" fill="#00f87c"/>
<rect x="1022" y="301" width="3" height="7" fill="#00f87c"/>
<rect x="1027" y="284" width="1" height="31" fill="#ff0000"/>
<rect x="1026" y="299" width="3" height="9" fill="#ff0000"/>
<rect x="1031" y="290" width="1" height="48" fill="#00f87c"/>
<rect x="1030" y="299" width="3" height="21" fill="#00f87c"/>
<rect x="1035" y="286" width="1" height="43" fill="#ff0000"/>
<rect x="1034" y="300" width="3" height="21" fill="#ff0000"/>
<rect x="1039" y="278" width="1" height="52" fill="#ff0000"/>
<rect x="1038" y="288" width="3" height="23" fill="#ff0000"/>
<rect x="1043" y="262" width="1" height="31" fill="#ff0000"/>
<rect x="1042" y="277" width="3" height="12" fill="#ff0000"/>
<rect x="1047" y="268" width="1" height="6" fill="#ff0000"/>
<rect x="1046" y="269" width="3" height="4" fill="#ff0000"/>
<rect x="1051" y="270" width="1" height="34" fill="#00f87c"/>
<rect x="1050" y="270" width="3" height="5" fill="#00f87c"/>
<rect x="1055" y="257" width="1" height="33" fill="#ff0000"/>
<rect x="1054" y="266" width="3" height="10" fill="#ff0000"/>
<rect x="1059" y="262" width="1" height="47" fill="#00f87c"/>
<rect x="1058" y="266" width="3" height="38" fill="#00f87c"/>
<rect x="1063" y="300" width="1" height="71" fill="#00f87c"/>
<rect x="1062" y="302" width="3" height="62" fill="#00f87c"/>
<rect x="1067" y="348" width="1" height="41" fill="#00f87c"/>
<rect x="1066" y="362" width="3" height="22" fill="#00f87c"/>
<rect x="1071" y="383" width="1" height="7" fill="#ff0000"/>
<rect x="1070" y="385" width="3" height="2" fill="#ff0000"/>
<rect x="1075" y="361" width="1" height="32" fill="#ff0000"/>
<rect x="1074" y="374" width="3" height="12" fill="#ff0000"/>
<rect x="1079" y="345" width="1" height="33" fill="#ff0000"/>
<rect x="1078" y="346" width="3" height="31" fill="#ff0000"/>
<rect x="1083" y="328" width="1" height="21" fill="#ff0000"/>
<rect x="1082" y="336" width="3" height="12" fill="#ff0000"/>
<rect x="1087" y="315" width="1" height="24" fill="#ff0000"/>
<rect x="1086" y="320" width="3" height="18" fill="#ff0000"/>
<rect x="1091" y="293" width="1" height="43" fill="#ff0000"/>
<rect x="1090" y="300" width="3" height="22" fill="#ff0000"/>
<rect x="1095" y="300" width="1" height="5" fill="#00f87c"/>
<rect x="1094" y="301" width="3" height="4" fill="#00f87c"/>
<rect x="1099" y="280" width="1" height="26" fill="#ff0000"/>
<rect x="1098" y="299" width="3" height="6" fill="#ff0000"/>
<rect x="1103" y="284" width="1" height="30" fill="#00f87c"/>
<rect x="1102" y="299" width="3" height="8" fill="#00f87c"/>
<rect x="1107" y="302" width="1" height="51" fill="#00f87c"/>
<rect x="1106" y="304" width="3" height="46" fill="#00f87c"/>
<rect x="1111" y="347" width="1" height="31" fill="#00f87c"/>
<rect x="1110" y="349" width="3" height="24" fill="#00f87c"/>
<rect x="1115" y="345" width="1" height="38" fill="#00f87c"/>
<rect x="1114" y="371" width="3" height="8" fill="#00f87c"/>
<rect x="1119" y="377" width="1" height="4" fill="#ff0000"/>
<rect x="1118" y="377" width="3" height="4" fill="#ff0000"/>
<rect x="1123" y="350" width="1" height="33" fill="#ff0000"/>
<rect x="1122" y="354" width="3" height="26" fill="#ff0000"/>
<rect x="1127" y="354" width="1" height="4" fill="#00f87c"/>
<rect x="1126" y="354" width="3" height="2" fill="#00f87c"/>
<path d="M3 316.5h1M4 317.5h1M5.5 318v2M6 320.5h1M7 321.5h1M8 322.5h1M9.5 323v2M10 325.5h1M11 326.5h1M12.5 324v2M13.5 322v2M14.5 320v2M15.5 318v2M16.5 316v2M17.5 314v2M18.5 312v2M19.5 310v2M20 309.5h1M21 308.5h1M22 307.5h1M23 306.5h1M24 305.5h1M25 304.5h1M26 303.5h1M27 302.5h2M29 301.5h3M32.5 302v2M33.5 304v2M34.5 306v2M35 308.5h2M37 307.5h3M40 308.5h1M41.5 309v2M42 311.5h1M43.5 312v2M44.5 314v4M45.5 318v4M46.5 322v4M47.5 326v2M48.5 328v2M49.5 330v2M50.5 332v2M51 334.5h1M52 333.5h2M54 332.5h1M55.5 332v2M56.5 334v2M57.5 336v2M58.5 338v2M59.5 340v2M60 342.5h2M62 343.5h1M63.5 343v2M64.5 345v4M65.5 349v3M66.5 352v4M67.5 356v3M68.5 359v4M69.5 363v4M70.5 367v4M71.5 371v3M72 374.5h1M73.5 375v2M74 377.5h1M75 378.5h1M76 377.5h1M77 376.5h1M78 375.5h1M79.5 374v2M80.5 376v2M81.5 378v3M82.5 381v2M83.5 383v2M84 384.5h1M85 385.5h7M92 386.5h1M93.5 387v2M94 389.5h1M95 390.5h4M99.5 390v2M100.5 392v3M101.5 395v2M102.5 397v3M103.5 400v2M104.5 402v2M105.5 404v2M106.5 406v2M107 408.5h1M108 409.5h2M110 410.5h2M112 411.5h1M113 412.5h2M115 413.5h1M116.5 414v2M117 416.5h1M118.5 417v2M119.5 418v2M120.5 416v2M121.5 413v3M122.5 411v2M123.5 408v3M124.5 405v3M125.5 402v3M126.5 399v3M127.5 394v5M128.5 388v6M129.5 382v6M130.5 376v6M131.5 371v5M132.5 367v4M133.5 364v3M134.5 360v4M135.5 357v3M136.5 353v4M137.5 350v3M138.5 346v4M139.5 343v3M140.5 339v4M141.5 335v4M142.5 331v4M143.5 326v5M144.5 321v5M145.5 316v5M146.5 311v5M147.5 307v4M148.5 305v2M149.5 303v2M150.5 301v2M151.5 299v2M152.5 297v2M153.5 295v2M154.5 293v2M155 292.5h2M157 293.5h3M160 294.5h1M161 295.5h2M163 296.5h1M164 297.5h1M165.5 298v2M166 300.5h1M167 301.5h1M168 302.5h1M169 303.5h2M171 304.5h1M172 305.5h1M173 306.5h1M174 307.5h1M175 308.5h2M177 309.5h4M181 310.5h3M184 309.5h1M185 308.5h1M186 307.5h1M187 306.5h1M188.5 304v2M189 303.5h1M190.5 301v2M191.5 299v2M192.5 297v2M193.5 294v3M194.5 292v2M195.5 289v3M196.5 287v2M197.5 285v2M198.5 283v2M199.5 280v3M200.5 277v3M201.5 275v2M202.5 272v3M203.5 270v2M204.5 268v2M205.5 266v2M206.5 264v2M207 263.5h1M208.5 261v2M209 260.5h1M210.5 258v2M211.5 256v2M212.5 254v2M213.5 251v3M214.5 249v2M215.5 246v3M216.5 244v2M217.5 241v3M218.5 239v2M219.5 236v3M220.5 233v3M221.5 231v2M222.5 228v3M223.5 226v2M224 225.5h1M225 224.5h1M226 223.5h1M227 222.5h1M228 221.5h1M229 220.5h2M231 219.5h1M232.5 217v2M233.5 215v2M234.5 213v2M235 212.5h1M236.5 210v2M237.5 208v2M238.5 206v2M239 205.5h1M240 206.5h1M241 207.5h1M242 208.5h1M243 209.5h1M244.5 210v2M245.5 212v2M246.5 214v2M247.5 216v2M248.5 218v2M249.5 220v3M250.5 223v2M251.5 225v2M252.5 227v2M253 229.5h1M254.5 230v2M255 232.5h1M256.5 233v2M257 235.5h1M258.5 236v2M259 238.5h1M260.5 239v2M261.5 241v2M262.5 243v2M263 245.5h1M264.5 246v2M265 248.5h1M266.5 249v2M267 251.5h2M269 252.5h3M272 253.5h1M273 254.5h1M274 255.5h1M275 256.5h1M276 257.5h2M278 258.5h2M280 259.5h2M282 260.5h3M285 261.5h3M288.5 259v2M289 258.5h1M290.5 256v2M291 255.5h1M292.5 253v2M293 252.5h1M294.5 250v2M295.5 248v2M296.5 245v3M297.5 242v3M298.5 239v3M299.5 236v3M300.5 233v3M301.5 229v4M302.5 226v3M303.5 223v3M304.5 220v3M305.5 218v2M306.5 215v3M307.5 212v3M308.5 208v4M309.5 205v3M310.5 201v4M311.5 198v3M312.5 196v2M313.5 193v3M314.5 191v2M315.5 189v2M316 189.5h1M317 190.5h4M321 191.5h2M323.5 191v2M324.5 193v2M325.5 195v3M326.5 198v2M327.5 200v2M328.5 202v2M329 204.5h1M330.5 205v2M331.5 207v2M332.5 209v2M333.5 211v2M334.5 213v2M335.5 215v3M336.5 218v4M337.5 222v3M338.5 225v4M339.5 229v4M340.5 233v5M341.5 238v5M342.5 243v5M343.5 248v4M344.5 252v4M345.5 256v3M346.5 259v4M347.5 263v3M348.5 266v3M349.5 269v3M350.5 272v3M351.5 275v3M352.5 278v2M353.5 280v3M354.5 283v2M355.5 285v3M356.5 288v3M357.5 291v4M358.5 295v3M359.5 298v3M360.5 301v2M361.5 303v2M362.5 305v2M363.5 307v2M364 309.5h1M365.5 310v2M366 312.5h1M367 313.5h1M368 312.5h1M369.5 310v2M370 309.5h1M371 308.5h1M372 307.5h1M373.5 305v2M374 304.5h1M375 303.5h2M377 302.5h3M380.5 300v2M381.5 298v2M382.5 296v2M383 295.5h1M384.5 293v2M385.5 291v2M386.5 289v2M387 288.5h1M388 287.5h1M389 286.5h1M390 285.5h1M391 284.5h1M392.5 282v2M393 281.5h1M394.5 279v2M395 278.5h1M396.5 276v2M397.5 274v2M398.5 272v2M399 271.5h1M400 270.5h1M401.5 268v2M402 267.5h1M403 266.5h1M404 265.5h1M405 264.5h1M406 263.5h1M407 262.5h2M409 261.5h3M412 260.5h1M413.5 258v2M414 257.5h1M415 256.5h1M416.5 254v2M417.5 252v2M418.5 250v2M419 249.5h1M420 248.5h1M421 247.5h1M422 246.5h1M423 245.5h1M424 244.5h1M425 243.5h2M427 242.5h1M428 241.5h1M429 240.5h1M430 239.5h1M431.5 237v2M432.5 234v3M433.5 232v2M434.5 229v3M435.5 226v3M436.5 223v3M437.5 219v4M438.5 216v3M439.5 213v3M440.5 209v4M441.5 205v4M442.5 201v4M443.5 197v4M444.5 193v4M445.5 189v4M446.5 185v4M447.5 182v3M448.5 178v4M449.5 174v4M450.5 170v4M451.5 166v4M452.5 160v6M453.5 155v5M454.5 149v6M455.5 144v5M456.5 139v5M457.5 133v6M458.5 128v5M459.5 124v4M460.5 120v4M461.5 116v4M462.5 112v4M463.5 109v3M464.5 107v2M465.5 104v3M466.5 102v2M467.5 100v2M468.5 98v2M469 97.5h1M470.5 95v2M471 94.5h1M472.5 92v2M473 91.5h1M474.5 89v2M475 88.5h1M476 87.5h1M477 86.5h1M478 85.5h1M479 84.5h1M480 85.5h1M481 86.5h2M483 87.5h2M485 88.5h3M488 89.5h1M489 90.5h2M491 91.5h1M492 92.5h1M493 93.5h2M495 94.5h1M496 95.5h2M498 96.5h7M505 95.5h3M508 96.5h2M510 97.5h1M511.5 97v2M512.5 99v2M513.5 101v2M514.5 103v2M515.5 105v3M516.5 108v2M517.5 110v2M518.5 112v2M519.5 114v3M520.5 117v4M521.5 121v3M522.5 124v4M523.5 128v3M524.5 131v2M525.5 133v3M526.5 136v2M527.5 138v3M528.5 141v4M529.5 145v4M530.5 149v4M531.5 153v3M532.5 156v3M533.5 159v4M534.5 163v3M535.5 166v2M536 168.5h1M537.5 169v2M538 171.5h1M539 172.5h1M540 173.5h2M542 174.5h2M544 175.5h2M546 176.5h2M548.5 174v2M549.5 172v2M550.5 170v2M551 169.5h5M556.5 170v2M557 172.5h1M558.5 173v2M559.5 175v2M560.5 177v3M561.5 180v2M562.5 182v3M563.5 185v3M564.5 188v3M565.5 191v2M566.5 193v3M567.5 196v2M568.5 198v2M569.5 200v2M570.5 202v2M571.5 204v2M572 206.5h2M574 207.5h2M576 208.5h1M577 209.5h1M578 210.5h1M579 211.5h1M580 212.5h2M582 213.5h2M584 214.5h1M585 215.5h2M587 216.5h1M588 217.5h2M590 218.5h1M591.5 218v2M592.5 220v3M593.5 223v3M594.5 226v3M595.5 229v3M596.5 232v4M597.5 236v4M598.5 240v4M599.5 244v3M600.5 247v4M601.5 251v4M602.5 255v4M603.5 259v5M604.5 264v5M605.5 269v6M606.5 275v5M607.5 280v6M608.5 286v6M609.5 292v6M610.5 298v6M611.5 304v5M612.5 309v3M613.5 312v4M614.5 316v3M615.5 319v3M616.5 322v3M617.5 325v4M618.5 329v3M619.5 332v2M620 333.5h4M624 332.5h1M625 331.5h2M627 330.5h2M629 331.5h2M631.5 330v2M632.5 328v2M633.5 325v3M634.5 323v2M635.5 320v3M636.5 316v4M637.5 312v4M638.5 308v4M639.5 305v3M640.5 302v3M641.5 300v2M642.5 297v3M643.5 294v3M644.5 290v4M645.5 287v3M646.5 283v4M647.5 281v2M648 281.5h1M649 280.5h2M651.5 280v3M652.5 283v4M653.5 287v5M654.5 292v4M655.5 296v5M656.5 301v5M657.5 306v5M658.5 311v5M659.5 316v6M660.5 322v8M661.5 330v7M662.5 337v8M663.5 345v8M664.5 353v8M665.5 361v8M666.5 369v8M667.5 377v8M668.5 385v7M669.5 392v8M670.5 400v7M671.5 407v7M672.5 414v7M673.5 421v8M674.5 429v7M675.5 436v6M676.5 442v5M677.5 447v5M678.5 452v5M679.5 457v3M680.5 460v2M681.5 462v2M682.5 464v2M683 466.5h1M684 465.5h1M685 464.5h1M686 463.5h1M687.5 461v2M688.5 457v4M689.5 453v4M690.5 449v4M691.5 446v3M692.5 442v4M693.5 438v4M694.5 434v4M695.5 430v4M696.5 426v4M697.5 423v3M698.5 419v4M699.5 417v2M700.5 415v2M701.5 413v2M702.5 411v2M703.5 407v4M704.5 402v5M705.5 398v4M706.5 393v5M707.5 388v5M708.5 383v5M709.5 378v5M710.5 373v5M711.5 368v5M712.5 364v4M713.5 359v5M714.5 355v4M715.5 352v3M716.5 350v2M717.5 348v2M718.5 346v2M719 345.5h1M720 344.5h1M721 343.5h1M722 342.5h1M723 341.5h1M724.5 339v2M725 338.5h1M726.5 336v2M727 335.5h2M729 336.5h2M731.5 336v2M732.5 338v2M733.5 340v2M734.5 342v2M735.5 344v3M736.5 347v2M737.5 349v2M738.5 351v2M739.5 353v2M740.5 355v2M741.5 357v2M742.5 359v2M743.5 361v2M744.5 363v2M745.5 365v2M746.5 367v2M747.5 369v2M748.5 371v2M749 373.5h1M750.5 374v2M751.5 376v2M752.5 378v2M753.5 380v3M754.5 383v2M755.5 385v2M756 387.5h2M758 388.5h2M760 389.5h2M762 390.5h3M765 389.5h3M768 390.5h1M769 391.5h1M770 392.5h1M771 393.5h1M772 392.5h1M773.5 390v2M774 389.5h1M775.5 387v2M776.5 383v4M777.5 380v3M778.5 376v4M779.5 373v3M780.5 369v4M781.5 366v3M782.5 362v4M783.5 359v3M784.5 357v2M785.5 354v3M786.5 352v2M787.5 349v3M788.5 347v2M789.5 345v2M790.5 343v2M791.5 340v3M792.5 337v3M793.5 335v2M794.5 332v3M795.5 330v2M796.5 328v2M797.5 326v2M798.5 324v2M799.5 323v2M800.5 325v3M801.5 328v2M802.5 330v3M803.5 333v3M804.5 336v4M805.5 340v3M806.5 343v4M807.5 347v5M808.5 352v7M809.5 359v8M810.5 367v7M811.5 374v6M812.5 380v5M813.5 385v4M814.5 389v5M815.5 394v5M816.5 399v5M817.5 404v4M818.5 408v5M819.5 413v6M820.5 419v6M821.5 425v6M822.5 431v6M823.5 437v6M824.5 443v6M825.5 449v5M826.5 454v6M827.5 460v4M828.5 464v4M829.5 468v3M830.5 471v4M831.5 475v3M832.5 478v4M833.5 482v4M834.5 486v4M835.5 490v3M836.5 490v2M837.5 488v2M838.5 486v2M839 485.5h1M840 486.5h1M841 487.5h2M843 488.5h1M844 487.5h2M846 486.5h2M848 485.5h1M849.5 483v2M850 482.5h1M851.5 480v2M852.5 478v2M853.5 476v2M854.5 474v2M855.5 471v3M856.5 468v3M857.5 465v3M858.5 462v3M859.5 459v3M860.5 456v3M861.5 454v2M862.5 451v3M863.5 449v2M864.5 447v2M865.5 445v2M866.5 443v2M867.5 441v2M868.5 438v3M869.5 434v4M870.5 431v3M871.5 429v2M872 430.5h2M874 431.5h2M876.5 432v2M877.5 434v2M878.5 436v2M879 438.5h9M888 437.5h1M889 436.5h1M890 435.5h1M891 434.5h1M892 433.5h1M893.5 431v2M894 430.5h1M895.5 428v2M896.5 426v2M897.5 424v2M898.5 422v2M899.5 418v4M900.5 413v5M901.5 409v4M902.5 404v5M903.5 399v5M904.5 393v6M905.5 388v5M906.5 382v6M907.5 378v4M908.5 376v2M909.5 374v2M910.5 372v2M911.5 370v2M912 370.5h4M916.5 368v2M917 367.5h1M918.5 365v2M919 364.5h1M920 363.5h2M922 362.5h2M924 363.5h1M925 364.5h2M927 365.5h1M928 364.5h1M929 363.5h1M930 362.5h1M931 361.5h2M933 360.5h3M936.5 358v2M937.5 356v2M938.5 354v2M939.5 351v3M940.5 348v3M941.5 345v3M942.5 342v3M943.5 340v2M944.5 338v2M945 337.5h1M946.5 335v2M947 334.5h2M949 335.5h3M952 334.5h1M953.5 332v2M954 331.5h1M955 330.5h2M957 329.5h3M960.5 327v2M961.5 325v2M962.5 323v2M963 322.5h1M964 323.5h2M966 324.5h2M968 323.5h2M970 322.5h6M976 321.5h1M977 320.5h1M978 319.5h1M979.5 318v2M980.5 320v2M981.5 322v2M982.5 324v2M983.5 326v2M984 327.5h1M985 328.5h3M988 329.5h1M989.5 330v2M990 332.5h1M991 333.5h1M992 334.5h1M993 335.5h2M995 336.5h5M1000.5 334v2M1001.5 332v2M1002.5 330v2M1003 329.5h1M1004 328.5h1M1005 327.5h1M1006 326.5h1M1007.5 324v2M1008.5 321v3M1009.5 317v4M1010.5 314v3M1011.5 311v3M1012.5 309v2M1013.5 307v2M1014.5 305v2M1015.5 303v2M1016 303.5h1M1017 302.5h3M1020 301.5h1M1021.5 299v2M1022 298.5h1M1023 297.5h1M1024 296.5h1M1025 295.5h1M1026 294.5h1M1027 293.5h1M1028.5 294v2M1029 296.5h1M1030.5 297v2M1031 299.5h1M1032 298.5h1M1033 297.5h2M1035 296.5h2M1037 297.5h4M1041 298.5h3M1044 297.5h1M1045 296.5h1M1046 295.5h1M1047 294.5h1M1048 293.5h1M1049.5 291v2M1050 290.5h1M1051 289.5h1M1052 288.5h1M1053 287.5h1M1054 286.5h1M1055 285.5h1M1056 284.5h1M1057 283.5h2M1059.5 282v2M1060.5 284v2M1061.5 286v2M1062.5 288v2M1063.5 290v3M1064.5 293v4M1065.5 297v3M1066.5 300v4M1067.5 304v3M1068.5 307v4M1069.5 311v4M1070.5 315v4M1071.5 319v3M1072.5 322v4M1073.5 326v4M1074.5 330v4M1075.5 334v3M1076.5 337v3M1077.5 340v2M1078.5 342v3M1079.5 345v3M1080.5 348v2M1081.5 350v3M1082.5 353v2M1083.5 355v2M1084 357.5h2M1086 358.5h1M1087.5 357v2M1088.5 355v2M1089.5 353v2M1090.5 351v2M1091.5 348v3M1092.5 345v3M1093.5 343v2M1094.5 340v3M1095.5 337v3M1096.5 334v3M1097.5 331v3M1098.5 328v3M1099.5 325v3M1100.5 323v2M1101.5 320v3M1102.5 318v2M1103.5 316v2M1104 316.5h4M1108 317.5h1M1109.5 318v2M1110 320.5h1M1111.5 321v2M1112.5 323v2M1113.5 325v2M1114.5 327v2M1115.5 329v3M1116.5 332v3M1117.5 335v2M1118.5 337v3M1119.5 340v2M1120.5 342v2M1121.5 344v2M1122.5 346v2M1123 348.5h1M1124.5 349v2M1125.5 351v2M1126.5 353v2M1127.5 355v2" fill="none" stroke="#0000c8" stroke-width="1"/>
<path d="M3 297.5h1M4 298.5h1M5 299.5h2M7 300.5h1M8 301.5h2M10 302.5h2M12 301.5h2M14 300.5h3M17 299.5h3M20 300.5h1M21.5 301v2M22 303.5h1M23 304.5h1M24 305.5h1M25 306.5h1M26 307.5h1M27 308.5h2M29 309.5h3M32.5 310v2M33 312.5h1M34.5 313v2M35 315.5h1M36 316.5h2M38 317.5h2M40 316.5h2M42 315.5h2M44 316.5h1M45 317.5h2M47 318.5h1M48 319.5h2M50 320.5h2M52 319.5h1M53 318.5h2M55 317.5h1M56 318.5h1M57 319.5h1M58 320.5h1M59 321.5h1M60 322.5h1M61.5 323v2M62 325.5h1M63 326.5h1M64.5 327v2M65 329.5h1M66.5 330v2M67.5 332v2M68.5 334v2M69.5 336v3M70.5 339v2M71.5 341v3M72.5 344v2M73.5 346v3M74.5 349v2M75.5 351v2M76 353.5h2M78 354.5h2M80 355.5h1M81 356.5h1M82 357.5h1M83 358.5h1M84 359.5h1M85.5 360v2M86 362.5h1M87 363.5h2M89 364.5h2M91.5 364v2M92.5 366v2M93.5 368v3M94.5 371v2M95.5 373v2M96.5 375v2M97.5 377v2M98.5 379v2M99.5 381v2M100.5 383v2M101.5 385v2M102.5 387v2M103 389.5h1M104 390.5h2M106 391.5h2M108.5 392v2M109 394.5h1M110.5 395v2M111 397.5h1M112 398.5h2M114 399.5h2M116 400.5h1M117 401.5h2M119 402.5h1M120 401.5h1M121 400.5h2M123 399.5h1M124 398.5h1M125.5 396v2M126 395.5h1M127 394.5h1M128.5 392v2M129.5 390v2M130.5 388v2M131.5 386v2M132 385.5h1M133 384.5h2M135 383.5h1M136.5 381v2M137 380.5h1M138.5 378v2M139 377.5h1M140.5 375v2M141.5 373v2M142.5 371v2M143 370.5h1M144.5 368v2M145.5 366v2M146.5 364v2M147.5 362v2M148.5 360v2M149.5 358v2M150.5 356v2M151.5 353v3M152.5 351v2M153.5 349v2M154.5 347v2M155.5 344v3M156.5 341v3M157.5 338v3M158.5 335v3M159.5 333v2M160.5 331v2M161 330.5h1M162.5 328v2M163 327.5h1M164 326.5h1M165 325.5h1M166 324.5h1M167 323.5h1M168.5 321v2M169.5 319v2M170.5 317v2M171 316.5h1M172.5 314v2M173.5 312v2M174.5 310v2M175.5 308v2M176 307.5h1M177 306.5h1M178 305.5h1M179 304.5h1M180 303.5h1M181 302.5h2M183 301.5h2M185 300.5h3M188 299.5h2M190 298.5h2M192 297.5h1M193 296.5h2M195 295.5h1M196 294.5h1M197 293.5h2M199 292.5h1M200 291.5h1M201 290.5h2M203 289.5h1M204 288.5h1M205 287.5h2M207 286.5h1M208 285.5h2M210 284.5h2M212.5 282v2M213.5 280v2M214.5 278v2M215.5 276v2M216.5 274v2M217.5 272v2M218.5 270v2M219.5 267v3M220.5 265v2M221.5 262v3M222.5 260v2M223.5 258v2M224.5 256v2M225.5 254v2M226.5 252v2M227 251.5h1M228.5 249v2M229 248.5h1M230.5 246v2M231 245.5h1M232.5 243v2M233.5 241v2M234.5 239v2M235.5 237v2M236.5 235v2M237 234.5h1M238.5 232v2M239 231.5h1M240 230.5h1M241 229.5h2M243 228.5h1M244 227.5h2M246 226.5h7M253 227.5h3M256 228.5h2M258 229.5h3M261 228.5h7M268 229.5h2M270 230.5h2M272.5 231v2M273 233.5h1M274.5 234v2M275 236.5h1M276.5 237v2M277 239.5h1M278.5 240v2M279 242.5h1M280 243.5h1M281 244.5h1M282 245.5h1M283 246.5h1M284 247.5h1M285 248.5h2M287 249.5h2M289 250.5h7M296.5 248v2M297 247.5h1M298.5 245v2M299 244.5h1M300 243.5h1M301 242.5h1M302 241.5h1M303 240.5h1M304 239.5h1M305.5 237v2M306 236.5h1M307 235.5h1M308.5 233v2M309 232.5h1M310.5 230v2M311 229.5h1M312 228.5h1M313 227.5h1M314 226.5h1M315 225.5h1M316 224.5h2M318 223.5h2M320 222.5h1M321 221.5h2M323 220.5h2M325 219.5h3M328 218.5h1M329 217.5h2M331 216.5h2M333 215.5h4M337 214.5h3M340.5 215v2M341 217.5h1M342.5 218v2M343 220.5h1M344.5 221v2M345.5 223v2M346.5 225v2M347 227.5h1M348.5 228v2M349 230.5h1M350.5 231v2M351.5 233v2M352.5 235v3M353.5 238v2M354.5 240v3M355.5 243v3M356.5 246v2M357.5 248v2M358.5 250v2M359.5 252v3M360.5 255v2M361.5 257v2M362.5 259v2M363.5 261v3M364.5 264v2M365.5 266v3M366.5 269v2M367.5 271v2M368.5 273v2M369.5 275v2M370.5 277v2M371 279.5h1M372 280.5h1M373.5 281v2M374 283.5h1M375 284.5h1M376 285.5h1M377.5 286v2M378 288.5h1M379 289.5h1M380 290.5h2M382 291.5h2M384 292.5h1M385 293.5h2M387 294.5h1M388 295.5h2M390 296.5h3M393 295.5h3M396 294.5h1M397.5 292v2M398 291.5h1M399 290.5h1M400 289.5h1M401.5 287v2M402 286.5h1M403 285.5h1M404 284.5h1M405 283.5h2M407 282.5h1M408 281.5h1M409 280.5h1M410 279.5h1M411 278.5h1M412.5 276v2M413 275.5h1M414.5 273v2M415 272.5h1M416.5 270v2M417 269.5h1M418.5 267v2M419 266.5h1M420 265.5h1M421 264.5h1M422 263.5h1M423 262.5h1M424 261.5h1M425.5 259v2M426 258.5h1M427 257.5h1M428 256.5h1M429.5 254v2M430 253.5h1M431 252.5h1M432.5 250v2M433.5 248v2M434.5 246v2M435.5 244v2M436.5 242v2M437.5 240v2M438.5 238v2M439.5 236v2M440.5 234v2M441.5 231v3M442.5 229v2M443.5 226v3M444.5 223v3M445.5 221v2M446.5 218v3M447.5 215v3M448.5 213v2M449.5 210v3M450.5 208v2M451.5 205v3M452.5 202v3M453.5 199v3M454.5 196v3M455.5 193v3M456.5 190v3M457.5 186v4M458.5 183v3M459.5 180v3M460.5 177v3M461.5 173v4M462.5 170v3M463.5 167v3M464.5 164v3M465.5 162v2M466.5 159v3M467.5 156v3M468.5 153v3M469.5 151v2M470.5 148v3M471.5 145v3M472.5 143v2M473.5 140v3M474.5 138v2M475.5 135v3M476.5 133v2M477.5 130v3M478.5 128v2M479.5 125v3M480.5 123v2M481.5 120v3M482.5 118v2M483.5 115v3M484.5 113v2M485.5 111v2M486.5 109v2M487.5 107v2M488.5 105v2M489.5 103v2M490.5 101v2M491 100.5h1M492 99.5h1M493 98.5h2M495 97.5h1M496 96.5h2M498 95.5h2M500 94.5h1M501 93.5h2M503 92.5h1M504 91.5h1M505 90.5h2M507 89.5h1M508 90.5h1M509 91.5h2M511 92.5h1M512 93.5h1M513.5 94v2M514 96.5h1M515 97.5h1M516.5 98v2M517 100.5h1M518.5 101v2M519 103.5h1M520.5 104v2M521.5 106v2M522.5 108v2M523.5 110v2M524.5 112v2M525.5 114v2M526.5 116v2M527 118.5h1M528.5 119v2M529.5 121v2M530.5 123v2M531 125.5h1M532.5 126v2M533 128.5h1M534.5 129v2M535 131.5h1M536 132.5h1M537 133.5h2M539 134.5h1M540.5 135v2M541 137.5h1M542.5 138v2M543 140.5h1M544.5 141v2M545 143.5h1M546.5 144v2M547 146.5h1M548 147.5h1M549 148.5h2M551 149.5h1M552 150.5h1M553.5 151v2M554 153.5h1M555.5 154v2M556.5 156v2M557.5 158v3M558.5 161v2M559.5 163v3M560.5 166v3M561.5 169v3M562.5 172v3M563.5 175v2M564.5 177v2M565.5 179v2M566.5 181v2M567.5 183v2M568.5 185v2M569 187.5h1M570.5 188v2M571 190.5h1M572 191.5h2M574 192.5h2M576 191.5h2M578 190.5h3M581 191.5h3M584 192.5h1M585.5 193v2M586 195.5h1M587 196.5h1M588.5 197v2M589 199.5h1M590.5 200v2M591.5 202v2M592.5 204v3M593.5 207v3M594.5 210v3M595.5 213v3M596.5 216v3M597.5 219v2M598.5 221v3M599.5 224v3M600.5 227v2M601.5 229v2M602.5 231v2M603.5 233v3M604.5 236v3M605.5 239v3M606.5 242v3M607.5 245v3M608.5 248v4M609.5 252v3M610.5 255v4M611.5 259v2M612.5 261v2M613.5 263v2M614.5 265v2M615.5 267v2M616.5 269v2M617.5 271v2M618.5 273v2M619.5 275v2M620.5 277v2M621 279.5h1M622.5 280v2M623 282.5h1M624 283.5h1M625.5 284v2M626 286.5h1M627.5 287v2M628.5 289v2M629.5 291v2M630.5 293v2M631.5 295v2M632 297.5h1M633.5 298v2M634 300.5h1M635 301.5h1M636 302.5h1M637.5 303v2M638 305.5h1M639 306.5h1M640 307.5h2M642 308.5h3M645 307.5h7M652.5 308v2M653.5 310v2M654.5 312v2M655.5 314v2M656.5 316v3M657.5 319v2M658.5 321v3M659.5 324v3M660.5 327v2M661.5 329v2M662.5 331v2M663.5 333v3M664.5 336v2M665.5 338v2M666.5 340v2M667.5 342v3M668.5 345v2M669.5 347v3M670.5 350v2M671.5 352v2M672.5 354v2M673.5 356v2M674.5 358v2M675.5 360v2M676.5 362v2M677.5 364v3M678.5 367v2M679.5 369v3M680.5 372v3M681.5 375v3M682.5 378v3M683.5 381v2M684.5 383v2M685.5 385v2M686.5 387v2M687.5 389v2M688.5 391v2M689.5 393v2M690.5 395v2M691.5 397v2M692.5 399v2M693.5 401v2M694.5 403v2M695.5 405v2M696.5 407v2M697.5 409v2M698.5 411v2M699.5 413v3M700.5 416v2M701.5 418v3M702.5 421v2M703.5 423v2M704 424.5h4M708.5 422v2M709 421.5h1M710.5 419v2M711.5 417v2M712.5 414v3M713.5 412v2M714.5 409v3M715.5 406v3M716.5 403v3M717.5 401v2M718.5 398v3M719.5 395v3M720.5 393v2M721.5 390v3M722.5 388v2M723.5 385v3M724.5 383v2M725.5 380v3M726.5 378v2M727.5 376v2M728 375.5h1M729 374.5h1M730 373.5h1M731 372.5h1M732 371.5h1M733 370.5h1M734 369.5h1M735 368.5h1M736.5 366v2M737 365.5h1M738.5 363v2M739 362.5h1M740 361.5h1M741.5 359v2M742 358.5h1M743 357.5h5M748 358.5h2M750 359.5h2M752 360.5h2M754 361.5h3M757 362.5h3M760.5 363v2M761 365.5h1M762.5 366v2M763 368.5h1M764 369.5h1M765 370.5h2M767 371.5h1M768.5 372v2M769 374.5h1M770.5 375v2M771 377.5h1M772 378.5h2M774 379.5h2M776 378.5h1M777 377.5h1M778 376.5h1M779 375.5h1M780 374.5h2M782 373.5h2M784 372.5h1M785 371.5h1M786 370.5h1M787 369.5h1M788 368.5h1M789 367.5h1M790 366.5h1M791 365.5h1M792.5 363v2M793 362.5h1M794.5 360v2M795 359.5h2M797 358.5h3M800 359.5h1M801 360.5h2M803 361.5h5M808.5 362v2M809.5 364v2M810.5 366v2M811.5 368v2M812 370.5h1M813 371.5h1M814 372.5h1M815 373.5h1M816 374.5h1M817.5 375v2M818 377.5h1M819 378.5h1M820.5 379v2M821.5 381v2M822.5 383v2M823 385.5h1M824.5 386v2M825.5 388v2M826.5 390v2M827.5 392v2M828.5 394v3M829.5 397v4M830.5 401v3M831.5 404v3M832.5 407v4M833.5 411v4M834.5 415v4M835.5 419v3M836.5 422v3M837.5 425v2M838.5 427v3M839.5 430v3M840.5 433v3M841.5 436v2M842.5 438v3M843.5 441v2M844.5 443v2M845.5 445v2M846.5 447v2M847.5 449v3M848.5 452v2M849.5 454v3M850.5 457v2M851.5 459v2M852.5 461v2M853.5 463v2M854.5 465v2M855 467.5h2M857 468.5h3M860 469.5h2M862 470.5h2M864.5 468v2M865.5 466v2M866.5 464v2M867 463.5h1M868 462.5h1M869.5 460v2M870 459.5h1M871 458.5h2M873 459.5h7M880 458.5h1M881 457.5h1M882 456.5h1M883 455.5h1M884.5 453v2M885 452.5h1M886.5 450v2M887 449.5h1M888.5 447v2M889.5 445v2M890.5 443v2M891.5 441v2M892.5 439v2M893 438.5h1M894.5 436v2M895.5 434v2M896.5 431v3M897.5 429v2M898.5 426v3M899.5 424v2M900.5 422v2M901.5 420v2M902.5 418v2M903.5 416v2M904.5 414v2M905.5 412v2M906.5 410v2M907.5 408v2M908 407.5h1M909 406.5h1M910 405.5h1M911 404.5h5M916 403.5h1M917.5 401v2M918 400.5h1M919 399.5h1M920 398.5h1M921 397.5h1M922 396.5h1M923 395.5h1M924 394.5h2M926 393.5h1M927.5 392v2M928.5 389v3M929.5 386v3M930.5 383v3M931.5 380v3M932.5 377v3M933.5 375v2M934.5 372v3M935.5 369v3M936.5 367v2M937.5 365v2M938.5 363v2M939.5 361v2M940.5 359v2M941 358.5h1M942.5 356v2M943 355.5h1M944.5 353v2M945 352.5h1M946.5 350v2M947 349.5h5M952 348.5h2M954 347.5h2M956 346.5h2M958 345.5h2M960 344.5h1M961 343.5h1M962 342.5h1M963 341.5h1M964 340.5h1M965 339.5h2M967 338.5h1M968.5 336v2M969.5 334v2M970.5 332v2M971 331.5h1M972 330.5h1M973 329.5h2M975 328.5h2M977 327.5h4M981 328.5h4M985 329.5h4M989 328.5h3M992 329.5h2M994 330.5h3M997 329.5h3M1000 328.5h1M1001 327.5h1M1002 326.5h1M1003 325.5h1M1004 324.5h1M1005 323.5h2M1007 322.5h1M1008 321.5h1M1009 320.5h2M1011 319.5h1M1012 318.5h1M1013 317.5h2M1015 316.5h2M1017 317.5h7M1024 316.5h2M1026 315.5h3M1029 314.5h3M1032 313.5h1M1033 312.5h2M1035 311.5h1M1036.5 309v2M1037 308.5h1M1038.5 306v2M1039 305.5h1M1040 304.5h1M1041 303.5h1M1042 302.5h1M1043 301.5h1M1044 300.5h1M1045 299.5h2M1047 298.5h1M1048 297.5h1M1049.5 295v2M1050 294.5h1M1051 293.5h1M1052 292.5h1M1053 291.5h1M1054 290.5h1M1055 289.5h1M1056 290.5h2M1058 291.5h2M1060 292.5h1M1061 293.5h2M1063 294.5h1M1064.5 295v2M1065.5 297v2M1066.5 299v2M1067 301.5h1M1068.5 302v2M1069.5 304v2M1070.5 306v2M1071.5 308v2M1072.5 310v2M1073 312.5h1M1074.5 313v2M1075 315.5h1M1076 316.5h1M1077 317.5h2M1079 318.5h1M1080 319.5h2M1082 320.5h11M1093 321.5h3M1096 322.5h2M1098 323.5h2M1100 324.5h1M1101 325.5h2M1103 326.5h1M1104 327.5h1M1105.5 328v2M1106 330.5h1M1107 331.5h1M1108.5 332v2M1109.5 334v2M1110.5 336v2M1111.5 338v2M1112 340.5h1M1113.5 341v2M1114 343.5h1M1115 344.5h2M1117 345.5h3M1120 344.5h2M1122 343.5h2M1124 342.5h2M1126 341.5h2" fill="none" stroke="#ff0000" stroke-width="1"/>
<path d="M3 295.5h14M17 294.5h7M24 295.5h2M26 296.5h2M28 297.5h1M29 298.5h2M31 299.5h1M32 300.5h1M33 301.5h1M34 302.5h1M35 303.5h6M41 304.5h3M44 305.5h1M45 306.5h1M46 307.5h1M47 308.5h1M48.5 309v2M49 311.5h1M50.5 312v2M51 314.5h1M52 315.5h2M54 316.5h2M56 317.5h1M57 318.5h2M59 319.5h1M60 320.5h1M61.5 321v2M62 323.5h1M63 324.5h1M64.5 325v2M65 327.5h1M66.5 328v2M67 330.5h1M68 331.5h1M69 332.5h1M70 333.5h1M71 334.5h1M72 335.5h1M73 336.5h1M74 337.5h1M75 338.5h6M81 339.5h3M84 340.5h1M85 341.5h2M87 342.5h1M88 343.5h1M89 344.5h2M91 345.5h1M92.5 346v2M93 348.5h1M94.5 349v2M95 351.5h1M96.5 352v2M97.5 354v2M98.5 356v2M99.5 358v2M100.5 360v2M101.5 362v3M102.5 365v2M103.5 367v2M104 369.5h1M105 370.5h1M106 371.5h1M107 372.5h1M108 373.5h1M109 374.5h2M111 375.5h1M112 376.5h1M113.5 377v2M114 379.5h1M115 380.5h1M116 381.5h2M118 382.5h2M120 383.5h1M121 384.5h2M123 385.5h1M124 386.5h2M126 387.5h2M128 386.5h1M129 385.5h1M130 384.5h1M131 383.5h1M132 382.5h1M133 381.5h2M135 380.5h5M140 379.5h1M141.5 377v2M142 376.5h1M143 375.5h1M144 374.5h1M145 373.5h1M146 372.5h1M147 371.5h1M148 370.5h1M149.5 368v2M150 367.5h1M151 366.5h1M152.5 364v2M153 363.5h1M154.5 361v2M155 360.5h1M156 359.5h1M157.5 357v2M158 356.5h1M159 355.5h2M161 354.5h3M164 353.5h2M166 352.5h2M168 351.5h1M169 350.5h1M170 349.5h1M171 348.5h1M172 347.5h1M173 346.5h2M175 345.5h1M176.5 343v2M177 342.5h1M178.5 340v2M179 339.5h1M180.5 337v2M181 336.5h1M182.5 334v2M183.5 332v2M184.5 330v2M185.5 328v2M186.5 326v2M187.5 324v2M188.5 322v2M189 321.5h1M190.5 319v2M191 318.5h1M192.5 316v2M193 315.5h1M194.5 313v2M195 312.5h1M196.5 310v2M197.5 308v2M198.5 306v2M199.5 303v3M200.5 301v2M201.5 299v2M202.5 297v2M203.5 295v2M204 294.5h1M205.5 292v2M206 291.5h1M207 290.5h1M208 289.5h1M209 288.5h1M210 287.5h1M211 286.5h1M212 285.5h1M213 284.5h1M214 283.5h1M215 282.5h1M216 281.5h1M217 280.5h1M218 279.5h1M219 278.5h1M220.5 276v2M221 275.5h1M222.5 273v2M223 272.5h1M224 271.5h1M225 270.5h2M227 269.5h1M228 268.5h1M229 267.5h2M231 266.5h1M232 265.5h1M233.5 263v2M234 262.5h1M235 261.5h1M236 260.5h1M237 259.5h2M239 258.5h1M240 257.5h1M241 256.5h1M242 255.5h1M243 254.5h1M244 253.5h1M245 252.5h2M247 251.5h1M248 250.5h1M249 249.5h1M250 248.5h1M251 247.5h1M252 246.5h2M254 245.5h2M256 244.5h1M257 243.5h2M259 242.5h1M260 241.5h2M262 240.5h2M264 239.5h2M266 238.5h2M268 237.5h2M270 236.5h10M280 237.5h2M282 238.5h3M285 239.5h3M288 238.5h2M290 237.5h2M292 236.5h2M294 235.5h2M296 234.5h1M297 233.5h2M299 232.5h9M308 231.5h2M310 230.5h3M313 229.5h4M317 230.5h4M321 231.5h4M325 230.5h4M329 229.5h8M337 230.5h3M340 231.5h1M341 232.5h2M343 233.5h1M344 234.5h1M345 235.5h1M346 236.5h1M347 237.5h1M348 238.5h2M350 239.5h2M352 240.5h2M354 241.5h2M356 242.5h2M358 243.5h2M360 244.5h1M361 245.5h2M363 246.5h2M365 247.5h3M368 248.5h2M370 249.5h2M372 250.5h1M373 251.5h1M374 252.5h1M375 253.5h1M376 254.5h1M377 255.5h2M379 256.5h1M380 257.5h1M381.5 258v2M382 260.5h1M383 261.5h1M384 262.5h1M385 263.5h1M386 264.5h1M387 265.5h1M388 266.5h1M389 267.5h1M390 268.5h1M391 269.5h1M392 270.5h1M393.5 271v2M394 273.5h1M395 274.5h1M396 275.5h1M397 276.5h2M399 277.5h2M401 278.5h3M404 279.5h2M406 280.5h3M409 281.5h8M417 280.5h4M421 279.5h3M424 278.5h1M425.5 276v2M426 275.5h1M427 274.5h1M428 273.5h1M429.5 271v2M430 270.5h1M431 269.5h1M432 268.5h1M433.5 266v2M434 265.5h1M435 264.5h1M436.5 262v2M437.5 260v2M438.5 258v2M439.5 256v2M440.5 254v2M441.5 251v3M442.5 249v2M443.5 247v2M444.5 245v2M445.5 243v2M446.5 241v2M447.5 238v3M448.5 236v2M449.5 234v2M450.5 232v2M451.5 229v3M452.5 227v2M453.5 224v3M454.5 222v2M455.5 219v3M456.5 217v2M457.5 214v3M458.5 212v2M459.5 209v3M460.5 207v2M461.5 204v3M462.5 202v2M463.5 199v3M464.5 197v2M465.5 195v2M466.5 193v2M467.5 191v2M468.5 189v2M469.5 187v2M470.5 185v2M471.5 182v3M472.5 180v2M473.5 177v3M474.5 175v2M475.5 173v2M476.5 171v2M477.5 169v2M478.5 167v2M479 166.5h1M480.5 164v2M481.5 162v2M482.5 160v2M483.5 158v2M484.5 156v2M485.5 154v2M486.5 152v2M487.5 150v2M488.5 148v2M489.5 146v2M490.5 144v2M491 143.5h1M492.5 141v2M493.5 139v2M494.5 137v2M495 136.5h1M496.5 134v2M497 133.5h1M498.5 131v2M499 130.5h1M500.5 128v2M501.5 126v2M502.5 124v2M503 123.5h1M504.5 121v2M505.5 119v2M506.5 117v2M507.5 115v2M508 114.5h1M509.5 112v2M510 111.5h1M511 110.5h1M512 109.5h1M513 108.5h1M514 107.5h1M515 106.5h2M517 105.5h3M520 106.5h2M522 107.5h2M524 108.5h1M525 109.5h2M527 110.5h1M528 111.5h1M529 112.5h2M531 113.5h1M532 114.5h2M534 115.5h2M536 116.5h1M537 117.5h1M538 118.5h1M539 119.5h1M540 120.5h1M541 121.5h1M542 122.5h1M543 123.5h1M544 124.5h1M545 125.5h1M546 126.5h1M547 127.5h1M548 128.5h1M549 129.5h1M550 130.5h1M551 131.5h1M552 132.5h1M553 133.5h1M554 134.5h1M555 135.5h1M556.5 136v2M557.5 138v2M558.5 140v2M559 142.5h1M560.5 143v2M561.5 145v2M562.5 147v2M563 149.5h1M564.5 150v2M565 152.5h1M566.5 153v2M567 155.5h1M568.5 156v2M569.5 158v2M570.5 160v2M571 162.5h1M572 163.5h1M573 164.5h1M574 165.5h1M575 166.5h1M576 167.5h1M577 168.5h1M578 169.5h1M579 170.5h1M580 171.5h1M581 172.5h1M582 173.5h1M583 174.5h1M584.5 175v2M585.5 177v2M586.5 179v2M587.5 181v2M588.5 183v2M589.5 185v2M590.5 187v2M591.5 189v3M592.5 192v2M593.5 194v3M594.5 197v2M595.5 199v2M596.5 201v2M597.5 203v2M598.5 205v2M599.5 207v2M600.5 209v2M601.5 211v2M602.5 213v2M603 215.5h1M604.5 216v2M605 218.5h1M606.5 219v2M607.5 221v2M608.5 223v2M609.5 225v2M610.5 227v2M611.5 229v2M612.5 231v2M613.5 233v2M614.5 235v2M615.5 237v2M616.5 239v2M617.5 241v2M618.5 243v2M619.5 245v2M620.5 247v2M621.5 249v2M622.5 251v2M623 253.5h1M624.5 254v2M625.5 256v2M626.5 258v2M627 260.5h1M628.5 261v2M629 263.5h1M630.5 264v2M631 266.5h1M632 267.5h1M633.5 268v2M634 270.5h1M635 271.5h1M636 272.5h1M637 273.5h1M638 274.5h1M639 275.5h1M640 276.5h2M642 277.5h6M648 278.5h1M649 279.5h1M650 280.5h1M651.5 281v2M652.5 283v2M653.5 285v3M654.5 288v2M655.5 290v3M656.5 293v3M657.5 296v3M658.5 299v3M659.5 302v3M660.5 305v4M661.5 309v3M662.5 312v4M663.5 316v3M664.5 319v4M665.5 323v3M666.5 326v4M667.5 330v3M668.5 333v3M669.5 336v2M670.5 338v3M671.5 341v3M672.5 344v2M673.5 346v2M674.5 348v2M675.5 350v2M676.5 352v2M677 354.5h1M678.5 355v2M679 357.5h1M680.5 358v2M681.5 360v2M682.5 362v2M683 364.5h1M684.5 365v2M685 367.5h1M686.5 368v2M687 370.5h1M688 371.5h2M690 372.5h6M696 373.5h2M698 374.5h2M700 375.5h2M702 376.5h6M708 377.5h2M710 378.5h6M716 379.5h2M718 380.5h2M720 381.5h1M721 382.5h1M722 383.5h1M723 384.5h1M724 385.5h1M725 386.5h1M726 387.5h1M727 388.5h1M728.5 389v2M729 391.5h1M730.5 392v2M731 394.5h1M732 395.5h1M733 396.5h1M734 397.5h1M735 398.5h1M736 397.5h2M738 396.5h2M740 395.5h1M741 394.5h1M742 393.5h1M743 392.5h1M744 391.5h1M745.5 389v2M746 388.5h1M747 387.5h1M748 386.5h1M749 385.5h1M750 384.5h1M751 383.5h1M752 382.5h1M753 381.5h2M755 380.5h1M756 379.5h1M757 378.5h2M759 377.5h1M760 376.5h2M762 375.5h2M764 374.5h1M765 373.5h1M766 372.5h1M767 371.5h1M768 370.5h2M770 369.5h2M772 368.5h2M774 367.5h2M776 366.5h1M777 365.5h2M779 364.5h1M780 363.5h1M781 362.5h2M783 361.5h1M784 360.5h1M785 359.5h2M787 358.5h2M789 359.5h3M792 358.5h2M794 357.5h2M796 358.5h2M798 359.5h2M800 360.5h1M801.5 361v2M802 363.5h1M803 364.5h1M804 365.5h2M806 366.5h1M807.5 366v2M808.5 368v2M809.5 370v2M810.5 372v2M811.5 374v2M812 376.5h1M813 377.5h2M815 378.5h1M816 379.5h1M817 380.5h1M818 381.5h1M819 382.5h1M820 383.5h1M821 384.5h1M822 385.5h1M823 386.5h1M824.5 387v2M825.5 389v2M826.5 391v2M827 393.5h1M828.5 394v2M829 396.5h1M830.5 397v2M831 399.5h1M832.5 400v2M833 402.5h1M834.5 403v2M835 405.5h1M836 406.5h2M838 407.5h2M840 408.5h1M841 409.5h1M842 410.5h1M843 411.5h1M844 412.5h1M845 413.5h2M847 414.5h1M848 415.5h1M849 416.5h2M851 417.5h1M852 418.5h2M854 419.5h2M856 420.5h1M857 421.5h1M858 422.5h1M859 423.5h1M860.5 424v2M861.5 426v2M862.5 428v2M863 430.5h1M864 431.5h1M865 432.5h1M866 433.5h1M867 434.5h1M868 435.5h1M869 436.5h1M870 437.5h1M871 438.5h1M872.5 439v2M873 441.5h1M874.5 442v2M875.5 444v2M876.5 446v2M877.5 448v2M878.5 450v2M879.5 452v2M880 454.5h1M881 455.5h1M882 456.5h1M883 457.5h2M885 458.5h7M892.5 456v2M893 455.5h1M894.5 453v2M895 452.5h1M896.5 450v2M897 449.5h1M898.5 447v2M899 446.5h1M900.5 444v2M901.5 442v2M902.5 440v2M903 439.5h1M904.5 437v2M905 436.5h1M906.5 434v2M907 433.5h1M908.5 431v2M909 430.5h1M910.5 428v2M911 427.5h1M912 426.5h1M913 425.5h1M914 424.5h1M915 423.5h1M916.5 421v2M917.5 419v2M918.5 417v2M919 416.5h1M920 415.5h1M921.5 413v2M922 412.5h1M923 411.5h1M924.5 409v2M925 408.5h1M926.5 406v2M927 405.5h1M928.5 403v2M929.5 401v2M930.5 399v2M931 398.5h1M932.5 396v2M933 395.5h1M934.5 393v2M935 392.5h1M936 391.5h1M937.5 389v2M938 388.5h1M939 387.5h1M940 386.5h1M941 385.5h1M942 384.5h1M943 383.5h1M944.5 381v2M945 380.5h1M946.5 378v2M947 377.5h1M948 376.5h2M950 375.5h2M952 374.5h1M953 373.5h2M955 372.5h1M956.5 370v2M957.5 368v2M958.5 366v2M959.5 363v3M960.5 361v2M961.5 358v3M962.5 356v2M963.5 354v2M964.5 352v2M965 351.5h1M966.5 349v2M967 348.5h1M968 347.5h1M969 346.5h1M970 345.5h1M971 344.5h1M972 343.5h1M973 342.5h1M974 341.5h1M975 340.5h2M977 339.5h4M981 340.5h8M989 339.5h3M992 338.5h2M994 337.5h2M996 336.5h1M997 335.5h1M998 334.5h1M999 333.5h1M1000 332.5h1M1001.5 330v2M1002 329.5h1M1003 328.5h1M1004 327.5h2M1006 326.5h2M1008 325.5h1M1009 324.5h2M1011 323.5h1M1012 322.5h1M1013 321.5h2M1015 320.5h2M1017 319.5h7M1024 318.5h2M1026 317.5h6M1032 316.5h1M1033 315.5h1M1034 314.5h1M1035 313.5h2M1037 312.5h3M1040 311.5h2M1042 310.5h6M1048 309.5h2M1050 308.5h2M1052 307.5h1M1053 306.5h2M1055 305.5h1M1056 304.5h2M1058 303.5h3M1061 304.5h4M1065 305.5h3M1068 306.5h2M1070 307.5h2M1072 308.5h1M1073 309.5h2M1075 310.5h2M1077 311.5h7M1084 312.5h2M1086 313.5h3M1089 312.5h4M1093 313.5h3M1096 314.5h2M1098 315.5h6M1104 316.5h2M1106 317.5h2M1108 318.5h1M1109 319.5h1M1110 320.5h1M1111 321.5h1M1112 322.5h2M1114 323.5h2M1116 324.5h1M1117 325.5h1M1118 326.5h1M1119 327.5h1M1120 328.5h1M1121 329.5h2M1123 330.5h1M1124 331.5h1M1125 332.5h1M1126 333.5h1M1127 334.5h1" fill="none" stroke="#ffff00" stroke-width="1"/>
<rect x="3" y="611" width="1" height="15" fill="#c0c0c0"/>
<rect x="7" y="611" width="1" height="15" fill="#c0c0c0"/>
<rect x="11" y="611" width="1" height="14" fill="#c0c0c0"/>
<rect x="15" y="611" width="1" height="11" fill="#c0c0c0"/>
<rect x="19" y="611" width="1" height="8" fill="#c0c0c0"/>
<rect x="23" y="611" width="1" height="9" fill="#c0c0c0"/>
<rect x="27" y="611" width="1" height="10" fill="#c0c0c0"/>
<rect x="31" y="611" width="1" height="9" fill="#c0c0c0"/>
<rect x="35" y="611" width="1" height="13" fill="#c0c0c0"/>
<rect x="39" y="611" width="1" height="11" fill="#c0c0c0"/>
<rect x="43" y="611" width="1" height="10" fill="#c0c0c0"/>
<rect x="47" y="611" width="1" height="13" fill="#c0c0c0"/>
<rect x="51" y="611" width="1" height="16" fill="#c0c0c0"/>
<rect x="55" y="611" width="1" height="13" fill="#c0c0c0"/>
<rect x="59" y="611" width="1" height="15" fill="#c0c0c0"/>
<rect x="63" y="611" width="1" height="17" fill="#c0c0c0"/>
<rect x="67" y="611" width="1" height="20" fill="#c0c0c0"/>
<rect x="71" y="611" width="1" height="23" fill="#c0c0c0"/>
<rect x="75" y="611" width="1" height="25" fill="#c0c0c0"/>
<rect x="79" y="611" width="1" height="22" fill="#c0c0c0"/>
<rect x="83" y="611" width="1" height="21" fill="#c0c0c0"/>
<rect x="87" y="611" width="1" height="20" fill="#c0c0c0"/>
<rect x="91" y="611" width="1" height="20" fill="#c0c0c0"/>
<rect x="95" y="611" width="1" height="23" fill="#c0c0c0"/>
<rect x="99" y="611" width="1" height="24" fill="#c0c0c0"/>
<rect x="103" y="611" width="1" height="29" fill="#c0c0c0"/>
<rect x="107" y="611" width="1" height="26" fill="#c0c0c0"/>
<rect x="111" y="611" width="1" height="24" fill="#c0c0c0"/>
<rect x="115" y="611" width="1" height="22" fill="#c0c0c0"/>
<rect x="119" y="611" width="1" height="22" fill="#c0c0c0"/>
<rect x="123" y="611" width="1" height="18" fill="#c0c0c0"/>
<rect x="127" y="611" width="1" height="13" fill="#c0c0c0"/>
<rect x="131" y="611" width="1" height="7" fill="#c0c0c0"/>
<rect x="135" y="611" width="1" height="1" fill="#c0c0c0"/>
<rect x="139" y="607" width="1" height="5" fill="#c0c0c0"/>
<rect x="143" y="602" width="1" height="10" fill="#c0c0c0"/>
<rect x="147" y="598" width="1" height="14" fill="#c0c0c0"/>
<rect x="151" y="597" width="1" height="15" fill="#c0c0c0"/>
<rect x="155" y="596" width="1" height="16" fill="#c0c0c0"/>
<rect x="159" y="597" width="1" height="15" fill="#c0c0c0"/>
<rect x="163" y="598" width="1" height="14" fill="#c0c0c0"/>
<rect x="167" y="599" width="1" height="13" fill="#c0c0c0"/>
<rect x="171" y="599" width="1" height="13" fill="#c0c0c0"/>
<rect x="175" y="599" width="1" height="13" fill="#c0c0c0"/>
<rect x="179" y="599" width="1" height="13" fill="#c0c0c0"/>
<rect x="183" y="599" width="1" height="13" fill="#c0c0c0"/>
<rect x="187" y="598" width="1" height="14" fill="#c0c0c0"/>
<rect x="191" y="597" width="1" height="15" fill="#c0c0c0"/>
<rect x="195" y="595" width="1" height="17" fill="#c0c0c0"/>
<rect x="199" y="592" width="1" height="20" fill="#c0c0c0"/>
<rect x="203" y="590" width="1" height="22" fill="#c0c0c0"/>
<rect x="207" y="590" width="1" height="22" fill="#c0c0c0"/>
<rect x="211" y="590" width="1" height="22" fill="#c0c0c0"/>
<rect x="215" y="588" width="1" height="24" fill="#c0c0c0"/>
<rect x="219" y="586" width="1" height="26" fill="#c0c0c0"/>
<rect x="223" y="582" width="1" height="30" fill="#c0c0c0"/>
<rect x="227" y="582" width="1" height="30" fill="#c0c0c0"/>
<rect x="231" y="583" width="1" height="29" fill="#c0c0c0"/>
<rect x="235" y="583" width="1" height="29" fill="#c0c0c0"/>
<rect x="239" y="584" width="1" height="28" fill="#c0c0c0"/>
<rect x="243" y="587" width="1" height="25" fill="#c0c0c0"/>
<rect x="247" y="590" width="1" height="22" fill="#c0c0c0"/>
<rect x="251" y="593" width="1" height="19" fill="#c0c0c0"/>
<rect x="255" y="595" width="1" height="17" fill="#c0c0c0"/>
<rect x="259" y="598" width="1" height="14" fill="#c0c0c0"/>
<rect x="263" y="599" width="1" height="13" fill="#c0c0c0"/>
<rect x="267" y="601" width="1" height="11" fill="#c0c0c0"/>
<rect x="271" y="602" width="1" height="10" fill="#c0c0c0"/>
<rect x="275" y="605" width="1" height="7" fill="#c0c0c0"/>
<rect x="279" y="606" width="1" height="6" fill="#c0c0c0"/>
<rect x="283" y="608" width="1" height="4" fill="#c0c0c0"/>
<rect x="287" y="608" width="1" height="4" fill="#c0c0c0"/>
<rect x="291" y="606" width="1" height="6" fill="#c0c0c0"/>
<rect x="295" y="604" width="1" height="8" fill="#c0c0c0"/>
<rect x="299" y="599" width="1" height="13" fill="#c0c0c0"/>
<rect x="303" y="597" width="1" height="15" fill="#c0c0c0"/>
<rect x="307" y="595" width="1" height="17" fill="#c0c0c0"/>
<rect x="311" y="593" width="1" height="19" fill="#c0c0c0"/>
<rect x="315" y="593" width="1" height="19" fill="#c0c0c0"/>
<rect x="319" y="596" width="1" height="16" fill="#c0c0c0"/>
<rect x="323" y="598" width="1" height="14" fill="#c0c0c0"/>
<rect x="327" y="600" width="1" height="12" fill="#c0c0c0"/>
<rect x="331" y="602" width="1" height="10" fill="#c0c0c0"/>
<rect x="335" y="604" width="1" height="8" fill="#c0c0c0"/>
<rect x="339" y="608" width="1" height="4" fill="#c0c0c0"/>
<rect x="343" y="611" width="1" height="5" fill="#c0c0c0"/>
<rect x="347" y="611" width="1" height="10" fill="#c0c0c0"/>
<rect x="351" y="611" width="1" height="12" fill="#c0c0c0"/>
<rect x="355" y="611" width="1" height="14" fill="#c0c0c0"/>
<rect x="359" y="611" width="1" height="17" fill="#c0c0c0"/>
<rect x="363" y="611" width="1" height="18" fill="#c0c0c0"/>
<rect x="367" y="611" width="1" height="17" fill="#c0c0c0"/>
<rect x="371" y="611" width="1" height="17" fill="#c0c0c0"/>
<rect x="375" y="611" width="1" height="16" fill="#c0c0c0"/>
<rect x="379" y="611" width="1" height="15" fill="#c0c0c0"/>
<rect x="383" y="611" width="1" height="12" fill="#c0c0c0"/>
<rect x="387" y="611" width="1" height="11" fill="#c0c0c0"/>
<rect x="391" y="611" width="1" height="10" fill="#c0c0c0"/>
<rect x="395" y="611" width="1" height="7" fill="#c0c0c0"/>
<rect x="399" y="611" width="1" height="5" fill="#c0c0c0"/>
<rect x="403" y="611" width="1" height="4" fill="#c0c0c0"/>
<rect x="407" y="611" width="1" height="3" fill="#c0c0c0"/>
<rect x="411" y="611" width="1" height="2" fill="#c0c0c0"/>
<rect x="415" y="609" width="1" height="3" fill="#c0c0c0"/>
<rect x="419" y="607" width="1" height="5" fill="#c0c0c0"/>
<rect x="423" y="606" width="1" height="6" fill="#c0c0c0"/>
<rect x="427" y="605" width="1" height="7" fill="#c0c0c0"/>
<rect x="431" y="603" width="1" height="9" fill="#c0c0c0"/>
<rect x="435" y="600" width="1" height="12" fill="#c0c0c0"/>
<rect x="439" y="596" width="1" height="16" fill="#c0c0c0"/>
<rect x="443" y="590" width="1" height="22" fill="#c0c0c0"/>
<rect x="447" y="586" width="1" height="26" fill="#c0c0c0"/>
<rect x="451" y="583" width="1" height="29" fill="#c0c0c0"/>
<rect x="455" y="578" width="1" height="34" fill="#c0c0c0"/>
<rect x="459" y="574" width="1" height="38" fill="#c0c0c0"/>
<rect x="463" y="572" width="1" height="40" fill="#c0c0c0"/>
<rect x="467" y="571" width="1" height="41" fill="#c0c0c0"/>
<rect x="471" y="571" width="1" height="41" fill="#c0c0c0"/>
<rect x="475" y="571" width="1" height="41" fill="#c0c0c0"/>
<rect x="479" y="572" width="1" height="40" fill="#c0c0c0"/>
<rect x="483" y="574" width="1" height="38" fill="#c0c0c0"/>
<rect x="487" y="575" width="1" height="37" fill="#c0c0c0"/>
<rect x="491" y="577" width="1" height="35" fill="#c0c0c0"/>
<rect x="495" y="579" width="1" height="33" fill="#c0c0c0"/>
<rect x="499" y="581" width="1" height="31" fill="#c0c0c0"/>
<rect x="503" y="582" width="1" height="30" fill="#c0c0c0"/>
<rect x="507" y="582" width="1" height="30" fill="#c0c0c0"/>
<rect x="511" y="586" width="1" height="26" fill="#c0c0c0"/>
<rect x="515" y="591" width="1" height="21" fill="#c0c0c0"/>
<rect x="519" y="596" width="1" height="16" fill="#c0c0c0"/>
<rect x="523" y="603" width="1" height="9" fill="#c0c0c0"/>
<rect x="527" y="607" width="1" height="5" fill="#c0c0c0"/>
<rect x="531" y="610" width="1" height="2" fill="#c0c0c0"/>
<rect x="535" y="611" width="1" height="1" fill="#c0c0c0"/>
<rect x="539" y="611" width="1" height="2" fill="#c0c0c0"/>
<rect x="543" y="611" width="1" height="3" fill="#c0c0c0"/>
<rect x="547" y="611" width="1" height="4" fill="#c0c0c0"/>
<rect x="551" y="611" width="1" height="4" fill="#c0c0c0"/>
<rect x="555" y="611" width="1" height="5" fill="#c0c0c0"/>
<rect x="559" y="611" width="1" height="10" fill="#c0c0c0"/>
<rect x="563" y="611" width="1" height="14" fill="#c0c0c0"/>
<rect x="567" y="611" width="1" height="17" fill="#c0c0c0"/>
<rect x="571" y="611" width="1" height="17" fill="#c0c0c0"/>
<rect x="575" y="611" width="1" height="16" fill="#c0c0c0"/>
<rect x="579" y="611" width="1" height="14" fill="#c0c0c0"/>
<rect x="583" y="611" width="1" height="13" fill="#c0c0c0"/>
<rect x="587" y="611" width="1" height="16" fill="#c0c0c0"/>
<rect x="591" y="611" width="1" height="19" fill="#c0c0c0"/>
<rect x="595" y="611" width="1" height="25" fill="#c0c0c0"/>
<rect x="599" y="611" width="1" height="29" fill="#c0c0c0"/>
<rect x="603" y="611" width="1" height="32" fill="#c0c0c0"/>
<rect x="607" y="611" width="1" height="35" fill="#c0c0c0"/>
<rect x="611" y="611" width="1" height="39" fill="#c0c0c0"/>
<rect x="615" y="611" width="1" height="41" fill="#c0c0c0"/>
<rect x="619" y="611" width="1" height="42" fill="#c0c0c0"/>
<rect x="623" y="611" width="1" height="40" fill="#c0c0c0"/>
<rect x="627" y="611" width="1" height="37" fill="#c0c0c0"/>
<rect x="631" y="611" width="1" height="35" fill="#c0c0c0"/>
<rect x="635" y="611" width="1" height="30" fill="#c0c0c0"/>
<rect x="639" y="611" width="1" height="25" fill="#c0c0c0"/>
<rect x="643" y="611" width="1" height="22" fill="#c0c0c0"/>
<rect x="647" y="611" width="1" height="18" fill="#c0c0c0"/>
<rect x="651" y="611" width="1" height="19" fill="#c0c0c0"/>
<rect x="655" y="611" width="1" height="26" fill="#c0c0c0"/>
<rect x="659" y="611" width="1" height="35" fill="#c0c0c0"/>
<rect x="663" y="611" width="1" height="41" fill="#c0c0c0"/>
<rect x="667" y="611" width="1" height="48" fill="#c0c0c0"/>
<rect x="671" y="611" width="1" height="51" fill="#c0c0c0"/>
<rect x="675" y="611" width="1" height="51" fill="#c0c0c0"/>
<rect x="679" y="611" width="1" height="52" fill="#c0c0c0"/>
<rect x="683" y="611" width="1" height="52" fill="#c0c0c0"/>
<rect x="687" y="611" width="1" height="49" fill="#c0c0c0"/>
<rect x="691" y="611" width="1" height="42" fill="#c0c0c0"/>
<rect x="695" y="611" width="1" height="37" fill="#c0c0c0"/>
<rect x="699" y="611" width="1" height="32" fill="#c0c0c0"/>
<rect x="703" y="611" width="1" height="29" fill="#c0c0c0"/>
<rect x="707" y="611" width="1" height="22" fill="#c0c0c0"/>
<rect x="711" y="611" width="1" height="17" fill="#c0c0c0"/>
<rect x="715" y="611" width="1" height="10" fill="#c0c0c0"/>
<rect x="719" y="611" width="1" height="6" fill="#c0c0c0"/>
<rect x="723" y="611" width="1" height="6" fill="#c0c0c0"/>
<rect x="727" y="611" width="1" height="4" fill="#c0c0c0"/>
<rect x="731" y="611" width="1" height="6" fill="#c0c0c0"/>
<rect x="735" y="611" width="1" height="8" fill="#c0c0c0"/>
<rect x="739" y="611" width="1" height="9" fill="#c0c0c0"/>
<rect x="743" y="611" width="1" height="7" fill="#c0c0c0"/>
<rect x="747" y="611" width="1" height="7" fill="#c0c0c0"/>
<rect x="751" y="611" width="1" height="9" fill="#c0c0c0"/>
<rect x="755" y="611" width="1" height="11" fill="#c0c0c0"/>
<rect x="759" y="611" width="1" height="12" fill="#c0c0c0"/>
<rect x="763" y="611" width="1" height="12" fill="#c0c0c0"/>
<rect x="767" y="611" width="1" height="11" fill="#c0c0c0"/>
<rect x="771" y="611" width="1" height="11" fill="#c0c0c0"/>
<rect x="775" y="611" width="1" height="7" fill="#c0c0c0"/>
<rect x="779" y="611" width="1" height="1" fill="#c0c0c0"/>
<rect x="783" y="608" width="1" height="4" fill="#c0c0c0"/>
<rect x="787" y="606" width="1" height="6" fill="#c0c0c0"/>
<rect x="791" y="605" width="1" height="7" fill="#c0c0c0"/>
<rect x="795" y="603" width="1" height="9" fill="#c0c0c0"/>
<rect x="799" y="603" width="1" height="9" fill="#c0c0c0"/>
<rect x="803" y="608" width="1" height="4" fill="#c0c0c0"/>
<rect x="807" y="611" width="1" height="2" fill="#c0c0c0"/>
<rect x="811" y="611" width="1" height="12" fill="#c0c0c0"/>
<rect x="815" y="611" width="1" height="16" fill="#c0c0c0"/>
<rect x="819" y="611" width="1" height="20" fill="#c0c0c0"/>
<rect x="823" y="611" width="1" height="24" fill="#c0c0c0"/>
<rect x="827" y="611" width="1" height="27" fill="#c0c0c0"/>
<rect x="831" y="611" width="1" height="30" fill="#c0c0c0"/>
<rect x="835" y="611" width="1" height="33" fill="#c0c0c0"/>
<rect x="839" y="611" width="1" height="31" fill="#c0c0c0"/>
<rect x="843" y="611" width="1" height="31" fill="#c0c0c0"/>
<rect x="847" y="611" width="1" height="29" fill="#c0c0c0"/>
<rect x="851" y="611" width="1" height="26" fill="#c0c0c0"/>
<rect x="855" y="611" width="1" height="22" fill="#c0c0c0"/>
<rect x="859" y="611" width="1" height="18" fill="#c0c0c0"/>
<rect x="863" y="611" width="1" height="17" fill="#c0c0c0"/>
<rect x="867" y="611" width="1" height="13" fill="#c0c0c0"/>
<rect x="871" y="611" width="1" height="9" fill="#c0c0c0"/>
<rect x="875" y="611" width="1" height="11" fill="#c0c0c0"/>
<rect x="879" y="611" width="1" height="14" fill="#c0c0c0"/>
<rect x="883" y="611" width="1" height="12" fill="#c0c0c0"/>
<rect x="887" y="611" width="1" height="9" fill="#c0c0c0"/>
<rect x="891" y="611" width="1" height="7" fill="#c0c0c0"/>
<rect x="895" y="611" width="1" height="2" fill="#c0c0c0"/>
<rect x="899" y="606" width="1" height="6" fill="#c0c0c0"/>
<rect x="903" y="601" width="1" height="11" fill="#c0c0c0"/>
<rect x="907" y="598" width="1" height="14" fill="#c0c0c0"/>
<rect x="911" y="597" width="1" height="15" fill="#c0c0c0"/>
<rect x="915" y="600" width="1" height="12" fill="#c0c0c0"/>
<rect x="919" y="600" width="1" height="12" fill="#c0c0c0"/>
<rect x="923" y="598" width="1" height="14" fill="#c0c0c0"/>
<rect x="927" y="597" width="1" height="15" fill="#c0c0c0"/>
<rect x="931" y="594" width="1" height="18" fill="#c0c0c0"/>
<rect x="935" y="592" width="1" height="20" fill="#c0c0c0"/>
<rect x="939" y="590" width="1" height="22" fill="#c0c0c0"/>
<rect x="943" y="590" width="1" height="22" fill="#c0c0c0"/>
<rect x="947" y="590" width="1" height="22" fill="#c0c0c0"/>
<rect x="951" y="593" width="1" height="19" fill="#c0c0c0"/>
<rect x="955" y="592" width="1" height="20" fill="#c0c0c0"/>
<rect x="959" y="591" width="1" height="21" fill="#c0c0c0"/>
<rect x="963" y="589" width="1" height="23" fill="#c0c0c0"/>
<rect x="967" y="589" width="1" height="23" fill="#c0c0c0"/>
<rect x="971" y="591" width="1" height="21" fill="#c0c0c0"/>
<rect x="975" y="592" width="1" height="20" fill="#c0c0c0"/>
<rect x="979" y="594" width="1" height="18" fill="#c0c0c0"/>
<rect x="983" y="598" width="1" height="14" fill="#c0c0c0"/>
<rect x="987" y="599" width="1" height="13" fill="#c0c0c0"/>
<rect x="991" y="598" width="1" height="14" fill="#c0c0c0"/>
<rect x="995" y="599" width="1" height="13" fill="#c0c0c0"/>
<rect x="999" y="600" width="1" height="12" fill="#c0c0c0"/>
<rect x="1003" y="597" width="1" height="15" fill="#c0c0c0"/>
<rect x="1007" y="597" width="1" height="15" fill="#c0c0c0"/>
<rect x="1011" y="596" width="1" height="16" fill="#c0c0c0"/>
<rect x="1015" y="594" width="1" height="18" fill="#c0c0c0"/>
<rect x="1019" y="594" width="1" height="18" fill="#c0c0c0"/>
<rect x="1023" y="595" width="1" height="17" fill="#c0c0c0"/>
<rect x="1027" y="596" width="1" height="16" fill="#c0c0c0"/>
<rect x="1031" y="598" width="1" height="14" fill="#c0c0c0"/>
<rect x="1035" y="598" width="1" height="14" fill="#c0c0c0"/>
<rect x="1039" y="598" width="1" height="14" fill="#c0c0c0"/>
<rect x="1043" y="597" width="1" height="15" fill="#c0c0c0"/>
<rect x="1047" y="596" width="1" height="16" fill="#c0c0c0"/>
<rect x="1051" y="596" width="1" height="16" fill="#c0c0c0"/>
<rect x="1055" y="595" width="1" height="17" fill="#c0c0c0"/>
<rect x="1059" y="597" width="1" height="15" fill="#c0c0c0"/>
<rect x="1063" y="603" width="1" height="9" fill="#c0c0c0"/>
<rect x="1067" y="609" width="1" height="3" fill="#c0c0c0"/>
<rect x="1071" y="611" width="1" height="4" fill="#c0c0c0"/>
<rect x="1075" y="611" width="1" height="7" fill="#c0c0c0"/>
<rect x="1079" y="611" width="1" height="8" fill="#c0c0c0"/>
<rect x="1083" y="611" width="1" height="7" fill="#c0c0c0"/>
<rect x="1087" y="611" width="1" height="6" fill="#c0c0c0"/>
<rect x="1091" y="611" width="1" height="3" fill="#c0c0c0"/>
<rect x="1095" y="611" width="1" height="2" fill="#c0c0c0"/>
<rect x="1099" y="610" width="1" height="2" fill="#c0c0c0"/>
<rect x="1103" y="609" width="1" height="3" fill="#c0c0c0"/>
<rect x="1107" y="611" width="1" height="1" fill="#c0c0c0"/>
<rect x="1111" y="611" width="1" height="5" fill="#c0c0c0"/>
<rect x="1115" y="611" width="1" height="7" fill="#c0c0c0"/>
<rect x="1119" y="611" width="1" height="10" fill="#c0c0c0"/>
<rect x="1123" y="611" width="1" height="10" fill="#c0c0c0"/>
<rect x="1127" y="611" width="1" height="10" fill="#c0c0c0"/>
<path d="M3 620.5h2M5 621.5h1M9 622.5h3M15 622.5h2M17 623.5h1M21 623.5h3M27 623.5h2M29 622.5h1M33 622.5h3M39 621.5h2M41 620.5h1M45 620.5h3M51 621.5h3M57 622.5h3M63 623.5h2M65 624.5h1M69 625.5h3M75 627.5h2M77 628.5h1M81 629.5h3M87 630.5h3M93 631.5h3M99 632.5h2M101 633.5h1M105 633.5h3M111 633.5h3M117 633.5h3M123 633.5h2M125 632.5h1M129 631.5h1M130 630.5h2M135 628.5h1M136 627.5h1M137 626.5h1M141 622.5h1M142 621.5h1M143 620.5h1M147 617.5h1M148 616.5h1M149 615.5h1M153 611.5h1M154 610.5h1M155 609.5h1M159 605.5h1M160 604.5h1M161 603.5h1M165 601.5h3M171 599.5h2M173 598.5h1M177 598.5h3M183 598.5h3M189 598.5h3M195 598.5h2M197 597.5h1M201 596.5h3M207 595.5h2M209 594.5h1M213 593.5h3M219 592.5h1M220 591.5h2M225 589.5h1M226 588.5h2M231 587.5h2M233 586.5h1M237 585.5h3M243 585.5h3M249 586.5h3M255 587.5h2M257 588.5h1M261 589.5h1M262 590.5h2M267 592.5h1M268 593.5h2M273 596.5h2M275 597.5h1M279 599.5h1M280 600.5h2M285 602.5h1M286 603.5h2M291 604.5h3M297 604.5h3M303 604.5h2M305 603.5h1M309 602.5h3M315 600.5h2M317 599.5h1M321 598.5h3M327 597.5h3M333 597.5h3M339 599.5h1M340 600.5h2M345 603.5h2M347 604.5h1M351 607.5h1M352 608.5h1M353 609.5h1M357 612.5h1M358 613.5h1M359 614.5h1M363 617.5h1M364 618.5h2M369 621.5h2M371 622.5h1M375 624.5h2M377 625.5h1M381 625.5h3M387 625.5h3M393 624.5h3M399 622.5h2M401 621.5h1M405 620.5h1M406 619.5h2M411 618.5h1M412 617.5h2M417 615.5h1M418 614.5h2M423 613.5h1M424 612.5h2M429 610.5h1M430 609.5h2M435 608.5h1M436 607.5h2M441 604.5h2M443 603.5h1M447 600.5h1M448 599.5h1M449 598.5h1M453 595.5h2M455 594.5h1M459 591.5h1M460 590.5h1M461 589.5h1M465 585.5h1M466 584.5h1M467 583.5h1M471 580.5h1M472 579.5h1M473 578.5h1M477 576.5h1M478 575.5h2M483 574.5h2M485 573.5h1M489 573.5h3M495 573.5h1M496 574.5h2M501 576.5h3M507 577.5h1M508 578.5h2M513 580.5h1M514 581.5h2M519 583.5h1M520 584.5h1M521 585.5h1M525 588.5h1M526 589.5h1M527 590.5h1M531 593.5h1M532 594.5h1M533 595.5h1M537 598.5h1M538 599.5h1M539 600.5h1M543 603.5h1M544 604.5h1M545 605.5h1M549 608.5h2M551 609.5h1M555 611.5h1M556 612.5h2M561 614.5h1M562 615.5h2M567 617.5h2M569 618.5h1M573 619.5h1M574 620.5h2M579 621.5h2M581 622.5h1M585 623.5h1M586 624.5h2M591 625.5h1M592 626.5h2M597 628.5h1M598 629.5h2M603 630.5h1M604 631.5h2M609 634.5h2M611 635.5h1M615 638.5h1M616 639.5h1M617 640.5h1M621 642.5h1M622 643.5h2M627 646.5h2M629 647.5h1M633 647.5h3M639 646.5h2M641 645.5h1M645 643.5h2M647 642.5h1M651 640.5h1M652 639.5h2M657 637.5h3M663 638.5h2M665 639.5h1M669 641.5h2M671 642.5h1M675 645.5h1M676 646.5h1M677 647.5h1M681 650.5h1M682 651.5h1M683 652.5h1M687 655.5h1M688 656.5h2M693 657.5h3M699 656.5h1M700 655.5h2M705 652.5h2M707 651.5h1M711 647.5h1M712 646.5h1M713 645.5h1M716 641.5h1M717.5 639v2M721.5 634v2M722 633.5h1M726 629.5h1M727 628.5h1M728 627.5h1M732 624.5h1M733 623.5h2M738 620.5h2M740 619.5h1M744 618.5h1M745 617.5h2M750 617.5h3M756 617.5h1M757 618.5h2M762 619.5h3M768 619.5h1M769 620.5h2M774 620.5h3M780 619.5h1M781 618.5h2M786 616.5h3M792 614.5h2M794 613.5h1M798 611.5h1M799 610.5h2M804 609.5h1M805 608.5h2M810 609.5h3M816 611.5h1M817 612.5h2M822 615.5h1M823 616.5h1M824 617.5h1M828 620.5h1M829.5 621v2M833 626.5h1M834 627.5h1M835 628.5h1M839 632.5h1M840 633.5h1M841 634.5h1M845 636.5h1M846 637.5h2M851 638.5h3M857 637.5h3M863 636.5h1M864 635.5h2M869 633.5h1M870 632.5h2M875 629.5h2M877 628.5h1M881 627.5h1M882 626.5h2M887 624.5h1M888 623.5h2M893 621.5h1M894 620.5h2M899 618.5h1M900 617.5h2M905 614.5h2M907 613.5h1M911 611.5h1M912 610.5h1M913 609.5h1M917 606.5h2M919 605.5h1M923 603.5h1M924 602.5h2M929 600.5h1M930 599.5h2M935 598.5h1M936 597.5h2M941 595.5h3M947 595.5h2M949 594.5h1M953 593.5h3M959 592.5h2M961 591.5h1M965 591.5h3M971 591.5h3M977 591.5h3M983 592.5h2M985 593.5h1M989 593.5h3M995 594.5h1M996 595.5h2M1001 596.5h3M1007 597.5h2M1009 598.5h1M1013 598.5h3M1019 597.5h3M1025 596.5h3M1031 596.5h3M1037 596.5h3M1043 596.5h3M1049 596.5h3M1055 597.5h3M1061 598.5h3M1067 599.5h1M1068 600.5h2M1073 602.5h1M1074 603.5h2M1079 605.5h1M1080 606.5h2M1085 609.5h2M1087 610.5h1M1091 612.5h2M1093 613.5h1M1097 614.5h3M1103 614.5h3M1109 613.5h3M1115 613.5h2M1117 614.5h1M1121 614.5h3M1127 615.5h1" fill="none" stroke="#ff0000" stroke-width="1"/>
<path d="M3 740.5h1M4 741.5h1M5 742.5h2M7 743.5h1M8 742.5h1M9 741.5h2M11.5 739v2M12.5 737v2M13.5 735v2M14.5 733v2M15.5 731v2M16 731.5h1M17 732.5h2M19.5 732v2M20.5 734v2M21.5 736v3M22.5 739v2M23.5 741v2M24 742.5h1M25 743.5h3M28 742.5h1M29.5 740v2M30 739.5h1M31.5 738v2M32.5 740v3M33.5 743v4M34.5 747v3M35.5 750v2M36.5 746v4M37.5 742v4M38.5 738v4M39.5 736v2M40 737.5h2M42 738.5h1M43.5 738v2M44.5 740v3M45.5 743v2M46.5 745v3M47.5 748v2M48 749.5h1M49 748.5h2M51.5 747v2M52.5 744v3M53.5 740v4M54.5 737v3M55.5 735v2M56.5 737v2M57.5 739v2M58.5 741v2M59.5 743v2M60 745.5h2M62 746.5h2M64 747.5h2M66 748.5h2M68 749.5h1M69 750.5h2M71 751.5h1M72 750.5h2M74 749.5h1M75.5 748v2M76.5 745v3M77.5 743v2M78.5 740v3M79.5 738v2M80 739.5h1M81 740.5h2M83 741.5h2M85 742.5h6M91.5 742v2M92.5 744v2M93.5 746v2M94.5 748v2M95.5 750v2M96 750.5h1M97 749.5h2M99 748.5h1M100.5 749v2M101.5 751v2M102.5 753v2M103.5 755v2M104.5 751v4M105.5 747v4M106.5 743v4M107.5 740v3M108 740.5h1M109 739.5h4M113 740.5h3M116 741.5h1M117 742.5h2M119 743.5h1M120.5 741v2M121.5 739v2M122.5 737v2M123.5 735v2M124 734.5h1M125 733.5h1M126 732.5h1M127 731.5h1M128 730.5h1M129.5 728v2M130 727.5h1M131 726.5h2M133 725.5h7M140 724.5h1M141 723.5h2M143 722.5h2M145 723.5h3M148 724.5h1M149 725.5h1M150 726.5h1M151 727.5h2M153 726.5h3M156 727.5h1M157.5 728v2M158 730.5h1M159 731.5h2M161 732.5h3M164 733.5h2M166 734.5h2M168.5 732v2M169 731.5h1M170.5 729v2M171 728.5h1M172 729.5h2M174 730.5h6M180 729.5h2M182 728.5h3M185 727.5h3M188 726.5h1M189.5 724v2M190 723.5h1M191 722.5h1M192 721.5h1M193 720.5h2M195 719.5h1M196 718.5h1M197 717.5h1M198 716.5h1M199 715.5h5M204.5 716v2M205.5 718v2M206.5 720v2M207.5 722v2M208 723.5h1M209 724.5h3M212.5 722v2M213.5 720v2M214.5 718v2M215.5 716v2M216 715.5h1M217 714.5h2M219 713.5h1M220 712.5h1M221 711.5h1M222 710.5h1M223.5 709v2M224.5 711v3M225.5 714v2M226.5 716v3M227.5 719v2M228 720.5h1M229 721.5h3M232 720.5h2M234 719.5h2M236 720.5h1M237 721.5h2M239.5 722v2M240.5 724v2M241.5 726v2M242.5 728v2M243.5 730v2M244 732.5h1M245 733.5h2M247 734.5h2M249 733.5h4M253 734.5h4M257 735.5h4M261 734.5h3M264 735.5h2M266 736.5h2M268 735.5h1M269 734.5h2M271.5 733v2M272.5 735v2M273.5 737v3M274.5 740v2M275.5 742v2M276.5 741v2M277.5 739v2M278.5 737v2M279 736.5h1M280 737.5h1M281 738.5h2M283 739.5h1M284 738.5h2M286 737.5h1M287.5 736v2M288.5 732v4M289.5 729v3M290.5 725v4M291.5 723v2M292 723.5h1M293 724.5h2M295.5 723v2M296.5 720v3M297.5 717v3M298.5 714v3M299.5 712v2M300.5 714v3M301.5 717v2M302.5 719v3M303.5 722v2M304 722.5h2M306 721.5h2M308 720.5h1M309 719.5h2M311 718.5h1M312.5 719v2M313.5 721v2M314.5 723v2M315.5 725v3M316.5 728v2M317.5 730v2M318.5 732v2M319.5 734v2M320 735.5h1M321 734.5h3M324 735.5h2M326 736.5h3M329 737.5h3M332 738.5h1M333 739.5h2M335 740.5h1M336 741.5h1M337.5 742v2M338 744.5h1M339.5 745v2M340.5 747v3M341.5 750v4M342.5 754v3M343.5 757v2M344 757.5h1M345 756.5h2M347 755.5h1M348.5 753v2M349 752.5h1M350.5 750v2M351 749.5h2M353 750.5h3M356 751.5h1M357 752.5h2M359 753.5h1M360 752.5h1M361.5 750v2M362 749.5h1M363 748.5h1M364 747.5h2M366 746.5h3M369 745.5h3M372 744.5h1M373 743.5h2M375 742.5h1M376 743.5h2M378 744.5h1M379.5 743v2M380.5 740v3M381.5 738v2M382.5 735v3M383.5 733v2M384 734.5h1M385 735.5h2M387 736.5h1M388 737.5h2M390 738.5h2M392.5 736v2M393.5 734v2M394.5 732v2M395 731.5h2M397 732.5h4M401 731.5h3M404 732.5h1M405 733.5h2M407 734.5h1M408 733.5h2M410 732.5h2M412.5 730v2M413.5 728v2M414.5 726v2M415 725.5h2M417 724.5h8M425 725.5h3M428 724.5h1M429 723.5h1M430 722.5h1M431.5 720v2M432.5 718v2M433.5 716v2M434.5 714v2M435.5 712v2M436 711.5h1M437.5 709v2M438 708.5h1M439 707.5h1M440.5 705v2M441 704.5h1M442.5 702v2M443 701.5h1M444 702.5h1M445 703.5h2M447 704.5h1M448 703.5h2M450 702.5h2M452 701.5h1M453.5 699v2M454 698.5h1M455 697.5h5M460 698.5h2M462 699.5h2M464 700.5h1M465 701.5h1M466 702.5h1M467 703.5h2M469 702.5h7M476 703.5h1M477 704.5h2M479 705.5h1M480.5 706v2M481.5 708v2M482.5 710v2M483.5 712v2M484 712.5h1M485 711.5h1M486 710.5h1M487 709.5h1M488.5 710v2M489.5 712v2M490.5 714v2M491 716.5h1M492 717.5h1M493.5 718v2M494 720.5h1M495 721.5h1M496 720.5h2M498 719.5h2M500 718.5h1M501.5 716v2M502 715.5h1M503 714.5h1M504 713.5h2M506 712.5h1M507.5 712v3M508.5 715v5M509.5 720v4M510.5 724v5M511.5 729v3M512.5 732v2M513.5 734v2M514.5 736v2M515.5 738v2M516 740.5h1M517.5 741v2M518 743.5h1M519.5 744v2M520.5 746v2M521.5 748v3M522.5 751v2M523.5 753v2M524.5 751v2M525.5 748v3M526.5 746v2M527.5 744v2M528 745.5h2M530 746.5h2M532 745.5h1M533.5 743v2M534 742.5h1M535 741.5h1M536 740.5h1M537 739.5h2M539 738.5h2M541 739.5h3M544 740.5h1M545.5 741v2M546 743.5h1M547 744.5h1M548.5 742v2M549.5 740v2M550.5 738v2M551 737.5h1M552 738.5h1M553.5 739v2M554 741.5h1M555.5 742v2M556.5 744v3M557.5 747v2M558.5 749v3M559.5 752v2M560 754.5h1M561 755.5h2M563 756.5h1M564 755.5h2M566 754.5h2M568.5 752v2M569 751.5h1M570.5 749v2M571 748.5h1M572.5 746v2M573.5 744v2M574.5 742v2M575 741.5h1M576 740.5h1M577 739.5h2M579 738.5h1M580 739.5h2M582 740.5h1M583.5 740v2M584.5 742v3M585.5 745v3M586.5 748v3M587.5 751v2M588 753.5h2M590 754.5h1M591.5 754v2M592.5 756v2M593.5 758v2M594.5 760v2M595.5 762v2M596 763.5h4M600 762.5h1M601.5 760v2M602 759.5h1M603 758.5h1M604 759.5h1M605 760.5h1M606 761.5h1M607 762.5h1M608 763.5h1M609 764.5h1M610 765.5h1M611.5 765v2M612.5 763v2M613.5 761v2M614.5 759v2M615.5 757v2M616 758.5h2M618 759.5h2M620.5 757v2M621.5 755v2M622.5 753v2M623.5 751v2M624.5 749v2M625 748.5h1M626.5 746v2M627 745.5h1M628 746.5h2M630 747.5h1M631.5 746v2M632.5 743v3M633.5 741v2M634.5 738v3M635.5 736v2M636 736.5h1M637 737.5h7M644 736.5h1M645 735.5h1M646 734.5h1M647.5 733v2M648.5 735v4M649.5 739v3M650.5 742v4M651.5 746v3M652.5 749v3M653.5 752v4M654.5 756v3M655.5 759v2M656 761.5h1M657 762.5h2M659 763.5h2M661 764.5h3M664 765.5h1M665 766.5h2M667 767.5h1M668.5 765v2M669 764.5h1M670.5 762v2M671 761.5h1M672 760.5h1M673.5 758v2M674 757.5h1M675 756.5h2M677 757.5h4M681 758.5h2M683.5 757v2M684.5 755v2M685.5 753v2M686.5 751v2M687.5 748v3M688.5 745v3M689.5 742v3M690.5 739v3M691.5 737v2M692 738.5h1M693 739.5h2M695 740.5h2M697 739.5h3M700 740.5h2M702 741.5h1M703.5 740v2M704.5 737v3M705.5 735v2M706.5 732v3M707.5 730v2M708 730.5h1M709 731.5h3M712 730.5h1M713 729.5h1M714 728.5h1M715 727.5h2M717 728.5h2M719.5 728v2M720.5 730v2M721.5 732v2M722.5 734v2M723.5 736v2M724 736.5h1M725 735.5h1M726 734.5h1M727.5 733v2M728.5 735v2M729.5 737v2M730.5 739v2M731.5 741v2M732 742.5h8M740.5 740v2M741 739.5h1M742.5 737v2M743 736.5h1M744 737.5h2M746 738.5h2M748.5 739v2M749 741.5h1M750.5 742v2M751 744.5h6M757 743.5h4M761 744.5h3M764.5 742v2M765 741.5h1M766.5 739v2M767 738.5h1M768 739.5h2M770 740.5h1M771.5 739v2M772.5 736v3M773.5 733v3M774.5 730v3M775.5 728v2M776 727.5h1M777.5 725v2M778 724.5h1M779 723.5h1M780 724.5h2M782 725.5h2M784 726.5h1M785 727.5h1M786 728.5h1M787 729.5h1M788 730.5h1M789 731.5h2M791 732.5h1M792.5 730v2M793.5 728v2M794.5 726v2M795 725.5h1M796.5 726v2M797.5 728v2M798.5 730v2M799.5 732v3M800.5 735v3M801.5 738v3M802.5 741v3M803.5 744v2M804 745.5h3M807.5 745v2M808.5 747v4M809.5 751v3M810.5 754v4M811.5 758v2M812.5 756v2M813.5 753v3M814.5 751v2M815.5 749v2M816 749.5h1M817 750.5h4M821 751.5h3M824 752.5h2M826 753.5h3M829 754.5h3M832 755.5h2M834 756.5h1M835.5 755v2M836.5 752v3M837.5 748v4M838.5 745v3M839.5 743v2M840 744.5h1M841 745.5h1M842 746.5h1M843 747.5h1M844 746.5h1M845.5 744v2M846 743.5h1M847 742.5h1M848 741.5h1M849 740.5h2M851 739.5h1M852 738.5h2M854 737.5h2M856 736.5h1M857 735.5h2M859 734.5h1M860 735.5h1M861.5 736v2M862 738.5h1M863 739.5h1M864.5 737v2M865 736.5h1M866.5 734v2M867 733.5h1M868 732.5h1M869 731.5h2M871.5 730v2M872.5 732v4M873.5 736v3M874.5 739v4M875.5 743v2M876 745.5h2M878 746.5h1M879.5 745v2M880.5 743v2M881.5 740v3M882.5 738v2M883.5 736v2M884 735.5h2M886 734.5h3M889 733.5h3M892.5 731v2M893 730.5h1M894.5 728v2M895 727.5h1M896.5 725v2M897 724.5h1M898.5 722v2M899 721.5h1M900 722.5h1M901 723.5h2M903 724.5h1M904 723.5h2M906 722.5h2M908.5 723v2M909.5 725v2M910.5 727v2M911.5 729v2M912.5 731v2M913.5 733v2M914.5 735v2M915.5 737v2M916.5 736v2M917.5 734v2M918.5 732v2M919 731.5h1M920 730.5h2M922 729.5h3M925 728.5h3M928 727.5h1M929.5 725v2M930 724.5h1M931 723.5h1M932 724.5h2M934 725.5h2M936 724.5h1M937 723.5h2M939 722.5h1M940.5 723v2M941 725.5h1M942.5 726v2M943 728.5h2M945 727.5h3M948.5 728v2M949.5 730v2M950.5 732v2M951.5 734v2M952.5 732v2M953.5 730v2M954.5 728v2M955.5 726v2M956 726.5h1M957 727.5h3M960.5 725v2M961 724.5h1M962.5 722v2M963 721.5h1M964.5 722v2M965.5 724v2M966.5 726v2M967.5 728v2M968 730.5h2M970 731.5h6M976 732.5h1M977 733.5h2M979 734.5h1M980.5 735v2M981 737.5h1M982.5 738v2M983.5 739v2M984.5 737v2M985.5 735v2M986.5 733v2M987.5 731v2M988 730.5h2M990 729.5h2M992 730.5h1M993.5 731v2M994 733.5h1M995 734.5h2M997 733.5h2M999.5 732v2M1000.5 730v2M1001.5 727v3M1002.5 725v2M1003.5 723v2M1004.5 725v2M1005.5 727v2M1006.5 729v2M1007.5 731v2M1008.5 730v2M1009 729.5h1M1010.5 727v2M1011 726.5h1M1012 725.5h2M1014 724.5h2M1016.5 725v2M1017 727.5h1M1018.5 728v2M1019 730.5h1M1020 731.5h2M1022 732.5h3M1025 731.5h3M1028 732.5h1M1029 733.5h1M1030 734.5h1M1031 735.5h1M1032 734.5h1M1033 733.5h1M1034 732.5h1M1035 731.5h1M1036 730.5h2M1038 729.5h2M1040 728.5h2M1042 727.5h2M1044 726.5h2M1046 725.5h2M1048 726.5h2M1050 727.5h2M1052 726.5h2M1054 725.5h1M1055.5 725v2M1056.5 727v2M1057.5 729v3M1058.5 732v2M1059.5 734v3M1060.5 737v3M1061.5 740v3M1062.5 743v3M1063.5 746v2M1064 748.5h1M1065 749.5h2M1067 750.5h5M1072 749.5h1M1073 748.5h2M1075 747.5h1M1076.5 745v2M1077.5 743v2M1078.5 741v2M1079 740.5h1M1080 739.5h2M1082 738.5h2M1084 737.5h1M1085 736.5h1M1086 735.5h1M1087 734.5h1M1088 733.5h1M1089 732.5h1M1090 731.5h1M1091 730.5h2M1093 731.5h4M1097 730.5h3M1100 731.5h2M1102 732.5h1M1103.5 732v2M1104.5 734v3M1105.5 737v2M1106.5 739v3M1107.5 742v2M1108 744.5h1M1109.5 745v2M1110 747.5h1M1111 748.5h2M1113 749.5h4M1117 748.5h3M1120.5 746v2M1121.5 744v2M1122.5 742v2M1123 741.5h2M1125 742.5h3" fill="none" stroke="#1e90ff" stroke-width="1"/>
<line x1="4" y1="710.5" x2="1418" y2="710.5" stroke="#c0c0c0" stroke-width="1" stroke-dasharray="3 3"/>
<line x1="4" y1="761.5" x2="1418" y2="761.5" stroke="#c0c0c0" stroke-width="1" stroke-dasharray="3 3"/>
<rect x="2" y="21" width="1417" height="1" fill="#000"/>
<rect x="2" y="562" width="1417" height="1" fill="#000"/>
<rect x="2" y="21" width="1" height="542" fill="#000"/>
<rect x="1418" y="21" width="1" height="542" fill="#000"/>
<rect x="2" y="564" width="1417" height="1" fill="#000"/>
<rect x="2" y="668" width="1417" height="1" fill="#000"/>
<rect x="2" y="564" width="1" height="105" fill="#000"/>
<rect x="1418" y="564" width="1" height="105" fill="#000"/>
<rect x="2" y="670" width="1417" height="1" fill="#000"/>
<rect x="2" y="800" width="1417" height="1" fill="#000"/>
<rect x="2" y="670" width="1" height="131" fill="#000"/>
<rect x="1418" y="670" width="1" height="131" fill="#000"/>
<rect x="3" y="95" width="1415" height="3" fill="#ff0000"/>
<rect x="2" y="93" width="7" height="7" fill="#ff0000"/>
<rect x="5" y="96" width="1" height="1" fill="#fff"/>
<rect x="1412" y="93" width="7" height="7" fill="#ff0000"/>
<rect x="1415" y="96" width="1" height="1" fill="#fff"/>
<rect x="1419" y="96" width="1" height="1" fill="#000"/>
<rect x="3" y="199" width="1415" height="3" fill="#ff0000"/>
<rect x="2" y="197" width="7" height="7" fill="#ff0000"/>
<rect x="5" y="200" width="1" height="1" fill="#fff"/>
<rect x="1412" y="197" width="7" height="7" fill="#ff0000"/>
<rect x="1415" y="200" width="1" height="1" fill="#fff"/>
<rect x="1419" y="200" width="1" height="1" fill="#000"/>
<rect x="3" y="295" width="1415" height="3" fill="#00ff00"/>
<rect x="2" y="293" width="7" height="7" fill="#00ff00"/>
<rect x="5" y="296" width="1" height="1" fill="#fff"/>
<rect x="1412" y="293" width="7" height="7" fill="#00ff00"/>
<rect x="1415" y="296" width="1" height="1" fill="#fff"/>
<rect x="1419" y="296" width="1" height="1" fill="#000"/>
<rect x="3" y="425" width="1415" height="3" fill="#0000ff"/>
<rect x="1419" y="426" width="1" height="1" fill="#000"/>
<rect x="3" y="512" width="1415" height="3" fill="#0000ff"/>
<rect x="1419" y="513" width="1" height="1" fill="#000"/>
</svg>
<div class="t" style="left:1424.00px;top:27.00px;font-size:10px;line-height:10px;color:#000;transform:scaleX(0.9074);transform-origin:0 0;">1.02560</div>
<div class="t" style="left:1424.00px;top:60.00px;font-size:10px;line-height:10px;color:#000;transform:scaleX(0.9074);transform-origin:0 0;">1.02180</div>
<div class="t" style="left:1424.00px;top:93.00px;font-size:10px;line-height:10px;color:#000;transform:scaleX(0.9074);transform-origin:0 0;">1.01800</div>
<div class="t" style="left:1424.00px;top:126.00px;font-size:10px;line-height:10px;color:#000;transform:scaleX(0.9074);transform-origin:0 0;">1.01420</div>
<div class="t" style="left:1424.00px;top:159.00px;font-size:10px;line-height:10px;color:#000;transform:scaleX(0.9074);transform-origin:0 0;">1.01040</div>
<div class="t" style="left:1424.00px;top:192.00px;font-size:10px;line-height:10px;color:#000;transform:scaleX(0.9074);transform-origin:0 0;">1.00660</div>
<div class="t" style="left:1424.00px;top:225.00px;font-size:10px;line-height:10px;color:#000;transform:scaleX(0.9074);transform-origin:0 0;">1.00280</div>
<div class="t" style="left:1424.00px;top:258.00px;font-size:10px;line-height:10px;color:#000;transform:scaleX(0.9074);transform-origin:0 0;">0.99900</div>
<div class="t" style="left:1424.00px;top:291.00px;font-size:10px;line-height:10px;color:#000;transform:scaleX(0.9074);transform-origin:0 0;">0.99520</div>
<div class="t" style="left:1424.00px;top:324.00px;font-size:10px;line-height:10px;color:#000;transform:scaleX(0.9074);transform-origin:0 0;">0.99130</div>
<div class="t" style="left:1424.00px;top:357.00px;font-size:10px;line-height:10px;color:#000;transform:scaleX(0.9074);transform-origin:0 0;">0.98750</div>
<div class="t" style="left:1424.00px;top:390.00px;font-size:10px;line-height:10px;color:#000;transform:scaleX(0.9074);transform-origin:0 0;">0.98370</div>
<div class="t" style="left:1424.00px;top:423.00px;font-size:10px;line-height:10px;color:#000;transform:scaleX(0.9074);transform-origin:0 0;">0.97990</div>
<div class="t" style="left:1424.00px;top:456.00px;font-size:10px;line-height:10px;color:#000;transform:scaleX(0.9074);transform-origin:0 0;">0.97610</div>
<div class="t" style="left:1424.00px;top:489.00px;font-size:10px;line-height:10px;color:#000;transform:scaleX(0.9074);transform-origin:0 0;">0.97230</div>
<div class="t" style="left:1424.00px;top:522.00px;font-size:10px;line-height:10px;color:#000;transform:scaleX(0.9074);transform-origin:0 0;">0.96850</div>
<div class="t" style="left:1424.00px;top:555.00px;font-size:10px;line-height:10px;color:#000;transform:scaleX(0.9074);transform-origin:0 0;">0.96470</div>
<div class="t" style="left:1422.00px;top:567.00px;font-size:10px;line-height:10px;color:#000;transform:scaleX(0.9050);transform-origin:0 0;">0.00613</div>
<div class="t" style="left:1422.00px;top:607.00px;font-size:10px;line-height:10px;color:#000;transform:scaleX(0.9050);transform-origin:0 0;">0.00</div>
<div class="t" style="left:1422.00px;top:657.00px;font-size:10px;line-height:10px;color:#000;transform:scaleX(0.9050);transform-origin:0 0;">-0.007612</div>
<div class="t" style="left:1422.00px;top:673.00px;font-size:10px;line-height:10px;color:#000;transform:scaleX(0.9050);transform-origin:0 0;">100</div>
<div class="t" style="left:1422.00px;top:706.00px;font-size:10px;line-height:10px;color:#000;transform:scaleX(0.9050);transform-origin:0 0;">70</div>
<div class="t" style="left:1422.00px;top:757.00px;font-size:10px;line-height:10px;color:#000;transform:scaleX(0.9050);transform-origin:0 0;">30</div>
<div class="t" style="left:1422.00px;top:789.00px;font-size:10px;line-height:10px;color:#000;transform:scaleX(0.9050);transform-origin:0 0;">0</div>
<div class="lb" style="top:90px;background:#ff0000"><span>1.01808</span></div>
<div class="lb" style="top:194px;background:#ff0000"><span>1.00610</span></div>
<div class="lb" style="top:290px;background:#00ff00"><span>0.99509</span></div>
<div class="lb" style="top:420px;background:#0000ff"><span>0.98003</span></div>
<div class="lb" style="top:507px;background:#0000ff"><span>0.97004</span></div>
<div class="lb" style="top:350px;background:#000"><span>0.98828</span></div>
<svg class="abs" style="left:6px;top:28px" width="7" height="4" shape-rendering="crispEdges"><rect x="3" y="0" width="1" height="1"/><rect x="2" y="1" width="3" height="1"/><rect x="1" y="2" width="5" height="1"/><rect x="0" y="3" width="7" height="1"/></svg>
<div class="t" style="left:17.60px;top:25.00px;font-size:10px;line-height:10px;color:#000;transform:scaleX(0.9800);transform-origin:0 0;">USDCHF-,Daily</div>
<div class="t" style="left:91.60px;top:25.00px;font-size:10px;line-height:10px;color:#000;transform:scaleX(0.9246);transform-origin:0 0;">0.98832 0.98840 0.98797 0.98828</div>
<div class="t" style="left:6.80px;top:569.00px;font-size:10px;line-height:10px;color:#000;transform:scaleX(0.9587);transform-origin:0 0;">MACD(12,26,9)</div>
<div class="t" style="left:76.00px;top:569.00px;font-size:10px;line-height:10px;color:#000;transform:scaleX(0.9165);transform-origin:0 0;">-0.001170</div>
<div class="t" style="left:119.80px;top:569.00px;font-size:10px;line-height:10px;color:#000;transform:scaleX(0.9192);transform-origin:0 0;">-0.000484</div>
<div class="t" style="left:6.80px;top:675.00px;font-size:10px;line-height:10px;color:#000;transform:scaleX(0.9346);transform-origin:0 0;">RSI(14)</div>
<div class="t" style="left:41.60px;top:675.00px;font-size:10px;line-height:10px;color:#000;transform:scaleX(0.9184);transform-origin:0 0;">45.4926</div>
<div class="t" style="left:2.00px;top:805.00px;font-size:10px;line-height:10px;color:#000;transform:scaleX(0.9180);transform-origin:0 0;">11 Dec 2018</div>
<div class="t" style="left:66.00px;top:805.00px;font-size:10px;line-height:10px;color:#000;transform:scaleX(0.9180);transform-origin:0 0;">30 Dec 2018</div>
<div class="t" style="left:130.00px;top:805.00px;font-size:10px;line-height:10px;color:#000;transform:scaleX(0.9180);transform-origin:0 0;">17 Jan 2019</div>
<div class="t" style="left:194.00px;top:805.00px;font-size:10px;line-height:10px;color:#000;transform:scaleX(0.9180);transform-origin:0 0;">5 Feb 2019</div>
<div class="t" style="left:258.00px;top:805.00px;font-size:10px;line-height:10px;color:#000;transform:scaleX(0.9180);transform-origin:0 0;">24 Feb 2019</div>
<div class="t" style="left:322.00px;top:805.00px;font-size:10px;line-height:10px;color:#000;transform:scaleX(0.9180);transform-origin:0 0;">14 Mar 2019</div>
<div class="t" style="left:386.00px;top:805.00px;font-size:10px;line-height:10px;color:#000;transform:scaleX(0.9180);transform-origin:0 0;">2 Apr 2019</div>
<div class="t" style="left:450.00px;top:805.00px;font-size:10px;line-height:10px;color:#000;transform:scaleX(0.9180);transform-origin:0 0;">22 Apr 2019</div>
<div class="t" style="left:514.00px;top:805.00px;font-size:10px;line-height:10px;color:#000;transform:scaleX(0.9180);transform-origin:0 0;">10 May 2019</div>
<div class="t" style="left:578.00px;top:805.00px;font-size:10px;line-height:10px;color:#000;transform:scaleX(0.9180);transform-origin:0 0;">29 May 2019</div>
<div class="t" style="left:642.00px;top:805.00px;font-size:10px;line-height:10px;color:#000;transform:scaleX(0.9180);transform-origin:0 0;">17 Jun 2019</div>
<div class="t" style="left:706.00px;top:805.00px;font-size:10px;line-height:10px;color:#000;transform:scaleX(0.9180);transform-origin:0 0;">5 Jul 2019</div>
<div class="t" style="left:770.00px;top:805.00px;font-size:10px;line-height:10px;color:#000;transform:scaleX(0.9180);transform-origin:0 0;">24 Jul 2019</div>
<div class="t" style="left:834.00px;top:805.00px;font-size:10px;line-height:10px;color:#000;transform:scaleX(0.9180);transform-origin:0 0;">12 Aug 2019</div>
<div class="t" style="left:898.00px;top:805.00px;font-size:10px;line-height:10px;color:#000;transform:scaleX(0.9180);transform-origin:0 0;">30 Aug 2019</div>
<div class="t" style="left:962.00px;top:805.00px;font-size:10px;line-height:10px;color:#000;transform:scaleX(0.9180);transform-origin:0 0;">18 Sep 2019</div>
<div class="t" style="left:1026.00px;top:805.00px;font-size:10px;line-height:10px;color:#000;transform:scaleX(0.9180);transform-origin:0 0;">7 Oct 2019</div>
<div class="t" style="left:1090.00px;top:805.00px;font-size:10px;line-height:10px;color:#000;transform:scaleX(0.9180);transform-origin:0 0;">25 Oct 2019</div>
<div class="abs" style="left:0;top:821px;width:1459px;height:1px;background:#e3e3e3"></div>
<div class="abs" style="left:0;top:822px;width:1459px;height:1px;background:#f4f4f4"></div>
<div class="abs" style="left:0;top:824px;width:1459px;height:18px;background:#f0f0f0"></div>
<div class="abs" style="left:0;top:823px;width:1459px;height:1px;background:#000"></div>
<div class="abs" style="left:220px;top:823px;width:108px;height:19px;background:#fff;border-left:1px solid #000;border-right:1px solid #000;border-bottom:1px solid #000;box-sizing:border-box"></div>
<div class="t" style="left:14.80px;top:827.00px;font-size:13px;line-height:13px;color:#5a5a5a;transform:scaleX(0.9342);transform-origin:0 0;">EURUSD-,Daily</div>
<div class="t" style="left:121.60px;top:827.00px;font-size:13px;line-height:13px;color:#5a5a5a;transform:scaleX(0.9517);transform-origin:0 0;">AUDUSD-,Daily</div>
<div class="t" style="left:231.80px;top:827.00px;font-size:13px;line-height:13px;color:#000;transform:scaleX(0.9241);transform-origin:0 0;">USDCHF-,Daily</div>
<div class="t" style="left:338.60px;top:827.00px;font-size:13px;line-height:13px;color:#5a5a5a;transform:scaleX(0.9451);transform-origin:0 0;">USDCAD-,Daily</div>
<div class="t" style="left:447.70px;top:827.00px;font-size:13px;line-height:13px;color:#5a5a5a;transform:scaleX(0.9584);transform-origin:0 0;">USDCNH-,Daily</div>
<div class="t" style="left:558.70px;top:827.00px;font-size:13px;line-height:13px;color:#5a5a5a;transform:scaleX(0.9312);transform-origin:0 0;">EURCHF-,Weekly</div>
<div class="t" style="left:678.60px;top:827.00px;font-size:13px;line-height:13px;color:#5a5a5a;transform:scaleX(0.9436);transform-origin:0 0;">XAUUSD-,H1</div>
<div class="t" style="left:774.90px;top:827.00px;font-size:13px;line-height:13px;color:#5a5a5a;transform:scaleX(0.9187);transform-origin:0 0;">GBPUSD-,H1</div>
<div class="t" style="left:871.10px;top:827.00px;font-size:13px;line-height:13px;color:#5a5a5a;transform:scaleX(0.9742);transform-origin:0 0;">UKOil-,H1</div>
<div class="t" style="left:949.80px;top:827.00px;font-size:13px;line-height:13px;color:#5a5a5a;transform:scaleX(0.9601);transform-origin:0 0;">USDX-,Weekly</div>
<div class="t" style="left:1054.00px;top:827.00px;font-size:13px;line-height:13px;color:#5a5a5a;transform:scaleX(0.9057);transform-origin:0 0;">EURCHF-,H1</div>
<div class="t" style="left:1147.80px;top:827.00px;font-size:13px;line-height:13px;color:#5a5a5a;transform:scaleX(0.9657);transform-origin:0 0;">USOil-,H1</div>
<div class="sep" style="left:112px"></div>
<div class="sep" style="left:436px"></div>
<div class="sep" style="left:548px"></div>
<div class="sep" style="left:668px"></div>
<div class="sep" style="left:764px"></div>
<div class="sep" style="left:860px"></div>
<div class="sep" style="left:940px"></div>
<div class="sep" style="left:1044px"></div>
<div class="sep" style="left:1136px"></div>
<div class="sep" style="left:1216px"></div>
<svg class="abs" style="left:1430px;top:826px" width="29" height="14"><path d="M7 3v7L3.5 6.5z" fill="#8c8c8c"/><path d="M23 3v7L26.5 6.5z" fill="#8c8c8c"/></svg>
<div class="abs" style="left:0;top:824px;width:220px;height:1px;background:#fcfcfc"></div>
<div class="abs" style="left:328px;top:824px;width:1131px;height:1px;background:#fcfcfc"></div>
<div class="abs" style="left:4px;top:39px;width:223px;height:68px;background:#fff"></div>
<div class="abs" style="left:6px;top:41px;width:52px;height:26px;box-sizing:border-box;border:1px solid #b40000;border-bottom:none;background:linear-gradient(#fb5353,#e23333)"></div>
<div class="abs" style="left:173px;top:41px;width:52px;height:26px;box-sizing:border-box;border:1px solid #b40000;border-bottom:none;background:linear-gradient(#fb5353,#e23333)"></div>
<div class="abs" style="left:6px;top:65px;width:109px;height:40px;box-sizing:border-box;border:1px solid #b40000;border-top:none;background:linear-gradient(#e03232,#b20202)"></div>
<div class="abs" style="left:117px;top:65px;width:108px;height:40px;box-sizing:border-box;border:1px solid #b40000;border-top:none;background:linear-gradient(#e03232,#b20202)"></div>
<div class="abs" style="left:58px;top:65px;width:57px;height:1px;background:#b40000"></div>
<div class="abs" style="left:117px;top:65px;width:56px;height:1px;background:#b40000"></div>
<div class="abs" style="left:10px;top:64px;width:44px;height:1px;background:#8c0000"></div>
<div class="abs" style="left:10px;top:65px;width:44px;height:1px;background:#ee5a5a"></div>
<div class="abs" style="left:177px;top:64px;width:44px;height:1px;background:#8c0000"></div>
<div class="abs" style="left:177px;top:65px;width:44px;height:1px;background:#ee5a5a"></div>
<div class="abs" style="left:60px;top:41px;width:111px;height:22px;box-sizing:border-box;border:1px solid #a9adb5;background:#fff"></div>
<div class="abs" style="left:81px;top:42px;width:1px;height:20px;background:#a9adb5"></div>
<div class="abs" style="left:149px;top:42px;width:1px;height:20px;background:#a9adb5"></div>
<div class="abs" style="left:62px;top:43px;width:18px;height:18px;background:linear-gradient(#f2f2f2 0,#e6e6e6 33%,#d8d8d8 34%,#d0d0d0 100%)"></div>
<div class="abs" style="left:151px;top:43px;width:18px;height:18px;background:linear-gradient(#f2f2f2 0,#e6e6e6 33%,#d8d8d8 34%,#d0d0d0 100%)"></div>
<svg class="abs" style="left:68px;top:50px" width="5" height="3" shape-rendering="crispEdges"><rect x="0" y="0" width="5" height="1" fill="#4a66d8"/><rect x="1" y="1" width="3" height="1" fill="#3a4ca8"/><rect x="2" y="2" width="1" height="1" fill="#303868"/></svg>
<svg class="abs" style="left:157px;top:50px" width="5" height="3" shape-rendering="crispEdges"><rect x="2" y="0" width="1" height="1" fill="#4a66d8"/><rect x="1" y="1" width="3" height="1" fill="#4a66d8"/><rect x="0" y="2" width="5" height="1" fill="#3a4ca8"/></svg>

<div class="t" style="left:17.80px;top:47.00px;font-size:12.5px;line-height:12.5px;color:#fff;transform:scaleX(0.8502);transform-origin:0 0;">SELL</div>
<div class="t" style="left:185.80px;top:47.00px;font-size:12.5px;line-height:12.5px;color:#fff;transform:scaleX(0.9182);transform-origin:0 0;">BUY</div>
<div class="t" style="left:122.40px;top:46.00px;font-size:12.5px;line-height:12.5px;color:#000;transform:scaleX(0.9700);transform-origin:0 0;">1.00</div>
<div class="t" style="left:25.60px;top:86.00px;font-size:12.5px;line-height:12.5px;color:#fff;font-weight:bold;transform:scaleX(1.0276);transform-origin:0 0;">0.98</div>
<div class="t" style="left:135.60px;top:86.00px;font-size:12.5px;line-height:12.5px;color:#fff;font-weight:bold;transform:scaleX(1.0276);transform-origin:0 0;">0.98</div>
<div class="t" style="left:52.60px;top:67.00px;font-size:34.4px;line-height:34.4px;color:#fff;transform:scaleX(0.9408);transform-origin:0 0;">82</div>
<div class="t" style="left:163.50px;top:67.00px;font-size:34.4px;line-height:34.4px;color:#fff;transform:scaleX(0.9304);transform-origin:0 0;">85</div>
<div class="t" style="left:92.60px;top:70.00px;font-size:12.5px;line-height:12.5px;color:#fff;font-weight:bold;transform:scaleX(1.0644);transform-origin:0 0;">8</div>
<div class="t" style="left:203.30px;top:70.00px;font-size:12.5px;line-height:12.5px;color:#fff;font-weight:bold;transform:scaleX(1.1220);transform-origin:0 0;">0</div>
</body></html>
